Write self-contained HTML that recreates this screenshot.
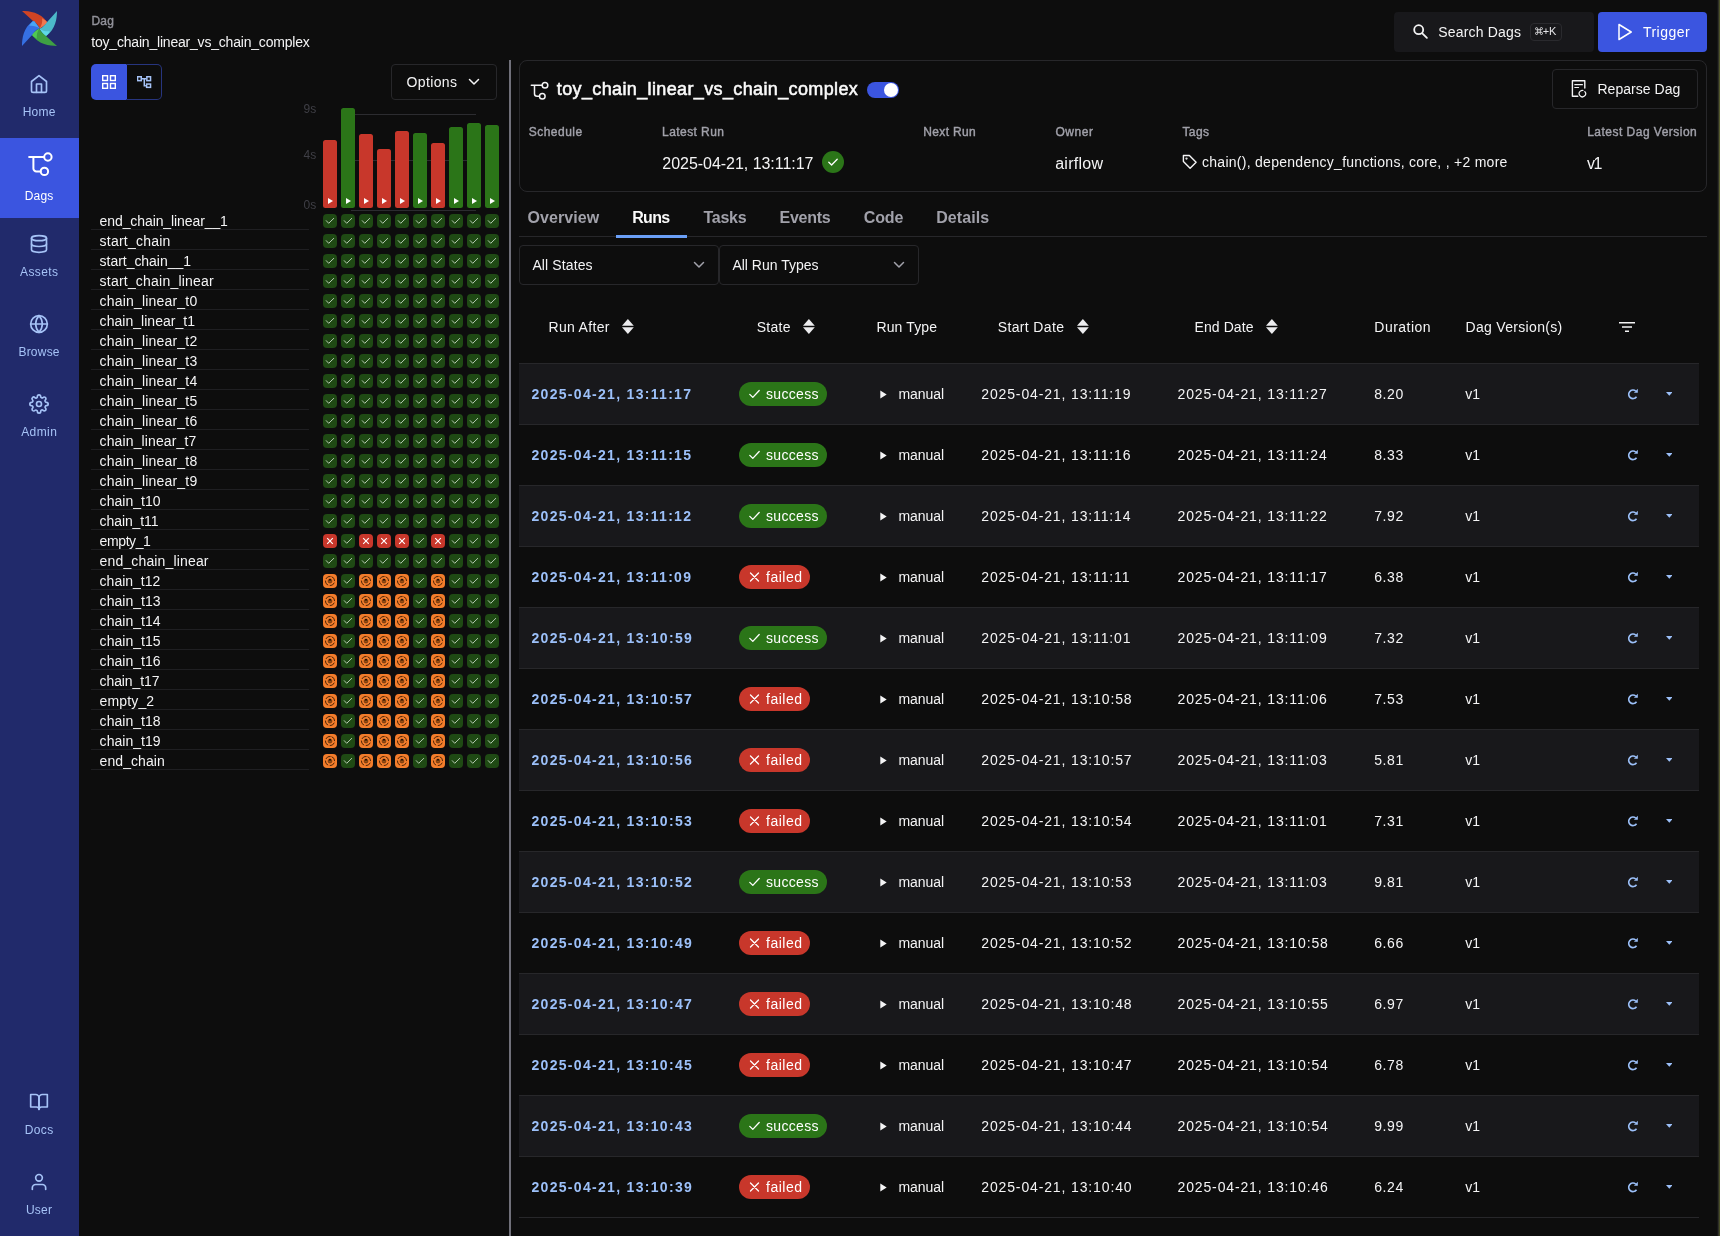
<!DOCTYPE html><html><head><meta charset="utf-8"><title>toy_chain_linear_vs_chain_complex - Runs</title><style>
*{box-sizing:border-box;margin:0;padding:0}
html,body{width:1720px;height:1236px;overflow:hidden;background:#0d0d0d;font-family:"Liberation Sans", sans-serif;color:#f4f4f5}
#root{position:relative;width:1720px;height:1236px;overflow:hidden;background:#0d0d0d;filter:opacity(1)}
.abs{position:absolute}
.t{position:absolute;white-space:nowrap;line-height:1}
#side{position:absolute;left:0;top:0;width:79px;height:1236px;background:#212a6b}
.ni{position:absolute;fill:none;stroke:#a6c3f7;stroke-width:2;stroke-linecap:round;stroke-linejoin:round}
.trl{position:absolute;left:91px;width:218px;height:1px;background:#1f1f22}
.c{position:absolute;width:14px;height:14px;border-radius:4px}
.c.s{background:#1f4a14} .c.f{background:#c8372b} .c.u{background:#f37d2b}
.c svg{position:absolute;left:0;top:0;width:14px;height:14px}
.bar{position:absolute;width:14px;border-radius:2.500px}
.bar.s{background:#2b7518} .bar.f{background:#c8372b}
.bar i{position:absolute;left:5px;bottom:4px;width:0;height:0;border-left:5.500px solid #fff;border-top:3.500px solid transparent;border-bottom:3.500px solid transparent}
.gl{position:absolute;left:351px;width:125px;height:1px;background:#2c2c30}
.tr{position:absolute;left:519px;width:1180px;height:61px;border-bottom:1px solid #27272a}
.tr.o{background:#18181b}
.bd{position:absolute;left:220px;top:18px;height:24px;border-radius:12px}
.bd.s{background:#2b7518;width:88px} .bd.f{background:#c8372b;width:71px}
.bd svg{position:absolute;left:9.500px;top:7px;width:11px;height:10px;fill:none;stroke:#fff;stroke-width:1.300;stroke-linecap:round;stroke-linejoin:round}
.sort{position:absolute;top:319.400px;width:11.800px;height:15px}
.box{position:absolute;border:1px solid #27272a;border-radius:4px}
.chev{position:absolute;width:12px;height:8px;fill:none;stroke-width:1.500;stroke-linecap:round;stroke-linejoin:round}
</style></head><body><div id="root">
<div id="side">
<svg class="abs" style="left:22px;top:11px;width:35px;height:35px" viewBox="0 0 100 100">
<g transform="rotate(0 50 50)"><path d="M0,0 C22,0 52,4 71,30.500 L71,35 L50.500,50.500 C49,46 44,37 32.500,29.500 Z" fill="#d04424"/><path d="M57.500,20.500 C63,24 68,27 71,30.500 L71,35 L50.500,50.500 C56,42 59,31 57.500,20.500 Z" fill="#f07850"/></g>
<g transform="rotate(90 50 50)"><path d="M0,0 C22,0 52,4 71,30.500 L71,35 L50.500,50.500 C49,46 44,37 32.500,29.500 Z" fill="#4cb9c9"/><path d="M57.500,20.500 C63,24 68,27 71,30.500 L71,35 L50.500,50.500 C56,42 59,31 57.500,20.500 Z" fill="#5fd8e6"/></g>
<g transform="rotate(180 50 50)"><path d="M0,0 C22,0 52,4 71,30.500 L71,35 L50.500,50.500 C49,46 44,37 32.500,29.500 Z" fill="#3ea043"/><path d="M57.500,20.500 C63,24 68,27 71,30.500 L71,35 L50.500,50.500 C56,42 59,31 57.500,20.500 Z" fill="#50c853"/></g>
<g transform="rotate(270 50 50)"><path d="M0,0 C22,0 52,4 71,30.500 L71,35 L50.500,50.500 C49,46 44,37 32.500,29.500 Z" fill="#3670e3"/><path d="M57.500,20.500 C63,24 68,27 71,30.500 L71,35 L50.500,50.500 C56,42 59,31 57.500,20.500 Z" fill="#48a4f5"/></g>
</svg>
<div class="abs" style="left:0;top:138px;width:79px;height:80px;background:#3b55e0"></div>
<svg class="ni" style="left:28.700px;top:74.2px;width:20px;height:20px" viewBox="0 0 24 24"><path d="M3 9l9-7 9 7v11a2 2 0 0 1-2 2H5a2 2 0 0 1-2-2z"/><path d="M9 22V12h6v10"/></svg>
<div class="t" style="left:22.65px;top:105.84px;font-size:12px;color:#a6c3f7;letter-spacing:0.230px;">Home</div>
<svg class="abs" style="left:27px;top:151px;width:27px;height:27px;fill:none;stroke:#fff;stroke-width:2;stroke-linecap:round;stroke-linejoin:round" viewBox="0 0 27 27"><circle cx="20.900" cy="6" r="3.700"/><circle cx="17.400" cy="20.400" r="3.700"/><path d="M2.100 6H17"/><path d="M6.400 6v11.400a3 3 0 0 0 3 3h4.200"/></svg>
<div class="t" style="left:24.75px;top:189.74px;font-size:12px;color:#fff;letter-spacing:0.162px;">Dags</div>
<svg class="ni" style="left:28.700px;top:234.2px;width:20px;height:20px" viewBox="0 0 24 24"><ellipse cx="12" cy="5" rx="9" ry="3"/><path d="M21 12c0 1.660-4 3-9 3s-9-1.340-9-3"/><path d="M3 5v14c0 1.660 4 3 9 3s9-1.340 9-3V5"/></svg>
<div class="t" style="left:20.10px;top:265.84px;font-size:12px;color:#a6c3f7;letter-spacing:0.358px;">Assets</div>
<svg class="ni" style="left:28.700px;top:314.2px;width:20px;height:20px" viewBox="0 0 24 24"><circle cx="12" cy="12" r="10"/><path d="M2 12h20"/><path d="M12 2a15.300 15.300 0 0 1 4 10 15.300 15.300 0 0 1-4 10 15.300 15.300 0 0 1-4-10 15.300 15.300 0 0 1 4-10z"/></svg>
<div class="t" style="left:18.45px;top:345.84px;font-size:12px;color:#a6c3f7;letter-spacing:0.217px;">Browse</div>
<svg class="ni" style="left:28.700px;top:394.2px;width:20px;height:20px" viewBox="0 0 24 24"><circle cx="12" cy="12" r="3"/><path d="M19.400 15a1.650 1.650 0 0 0 .330 1.820l.060.060a2 2 0 1 1-2.830 2.830l-.060-.060a1.650 1.650 0 0 0-1.820-.330 1.650 1.650 0 0 0-1 1.510V21a2 2 0 1 1-4 0v-.090A1.650 1.650 0 0 0 9 19.400a1.650 1.650 0 0 0-1.820.330l-.060.060a2 2 0 1 1-2.830-2.830l.060-.060a1.650 1.650 0 0 0 .330-1.820 1.650 1.650 0 0 0-1.510-1H3a2 2 0 1 1 0-4h.090A1.650 1.650 0 0 0 4.600 9a1.650 1.650 0 0 0-.330-1.820l-.060-.060a2 2 0 1 1 2.830-2.830l.060.060a1.650 1.650 0 0 0 1.820.330H9a1.650 1.650 0 0 0 1-1.510V3a2 2 0 1 1 4 0v.090a1.650 1.650 0 0 0 1 1.510 1.650 1.650 0 0 0 1.820-.330l.060-.060a2 2 0 1 1 2.830 2.830l-.060.060a1.650 1.650 0 0 0-.330 1.820V9a1.650 1.650 0 0 0 1.510 1H21a2 2 0 1 1 0 4h-.090a1.650 1.650 0 0 0-1.510 1z"/></svg>
<div class="t" style="left:21.15px;top:425.84px;font-size:12px;color:#a6c3f7;letter-spacing:0.421px;">Admin</div>
<svg class="ni" style="left:28.700px;top:1092.2px;width:20px;height:20px" viewBox="0 0 24 24"><path d="M2 3h6a4 4 0 0 1 4 4v14a3 3 0 0 0-3-3H2z"/><path d="M22 3h-6a4 4 0 0 0-4 4v14a3 3 0 0 1 3-3h7z"/></svg>
<div class="t" style="left:24.70px;top:1123.84px;font-size:12px;color:#a6c3f7;letter-spacing:0.420px;">Docs</div>
<svg class="ni" style="left:28.700px;top:1172.2px;width:20px;height:20px" viewBox="0 0 24 24"><path d="M20 21v-2a4 4 0 0 0-4-4H8a4 4 0 0 0-4 4v2"/><circle cx="12" cy="7" r="4"/></svg>
<div class="t" style="left:25.95px;top:1203.84px;font-size:12px;color:#a6c3f7;letter-spacing:0.254px;">User</div>
</div>
<div class="t" style="left:91.50px;top:14.84px;font-size:12px;color:#92929a;letter-spacing:0.168px;-webkit-text-stroke:0.4px #92929a;">Dag</div>
<div class="t" style="left:91.30px;top:35.15px;font-size:14px;color:#f4f4f5;letter-spacing:-0.201px;">toy_chain_linear_vs_chain_complex</div>
<div class="abs" style="left:91px;top:64px;width:35.500px;height:36px;background:#3b55e0;border-radius:5px 0 0 5px"></div>
<div class="abs" style="left:126px;top:64px;width:36px;height:36px;border:1px solid #27357f;border-left:none;border-radius:0 5px 5px 0"></div>
<svg class="abs" style="left:102px;top:75px;width:14px;height:14px;fill:none;stroke:#fff;stroke-width:1.400" viewBox="0 0 14 14"><rect x="0.700" y="0.700" width="4.800" height="4.800"/><rect x="8.500" y="0.700" width="4.800" height="4.800"/><rect x="0.700" y="8.500" width="4.800" height="4.800"/><rect x="8.500" y="8.500" width="4.800" height="4.800"/></svg>
<svg class="abs" style="left:137px;top:75px;width:15px;height:14px;fill:none;stroke:#a6c3f7;stroke-width:1.500" viewBox="0 0 15 14"><rect x="0.550" y="1.750" width="3.700" height="3.900"/><rect x="9.850" y="1.750" width="3.700" height="3.900"/><rect x="9.600" y="9.050" width="3.950" height="3.300"/><path d="M5 3.700h4.100M7.300 3.700v7h1.600"/></svg>
<div class="box" style="left:391px;top:64px;width:106px;height:36px"></div>
<div class="t" style="left:406.50px;top:75.15px;font-size:14px;color:#f4f4f5;letter-spacing:0.375px;">Options</div>
<svg class="chev" style="left:468px;top:78px;stroke:#f4f4f5" viewBox="0 0 12 8"><path d="M1.500 1.500L6 6l4.500-4.500"/></svg>
<div class="t" style="left:303.40px;top:103.14px;font-size:12px;color:#3f3f46;letter-spacing:0.300px;">9s</div>
<div class="t" style="left:303.40px;top:149.14px;font-size:12px;color:#3f3f46;letter-spacing:0.300px;">4s</div>
<div class="t" style="left:303.40px;top:199.14px;font-size:12px;color:#3f3f46;letter-spacing:0.300px;">0s</div>
<div class="gl" style="top:114px"></div>
<div class="gl" style="top:160px"></div>
<div class="gl" style="top:210px"></div>
<div class="bar f" style="left:323px;top:140px;height:68px"><i></i></div>
<div class="bar s" style="left:341px;top:108px;height:100px"><i></i></div>
<div class="bar f" style="left:359px;top:134px;height:74px"><i></i></div>
<div class="bar f" style="left:377px;top:149px;height:59px"><i></i></div>
<div class="bar f" style="left:395px;top:131px;height:77px"><i></i></div>
<div class="bar s" style="left:413px;top:133px;height:75px"><i></i></div>
<div class="bar f" style="left:431px;top:143px;height:65px"><i></i></div>
<div class="bar s" style="left:449px;top:127px;height:81px"><i></i></div>
<div class="bar s" style="left:467px;top:123px;height:85px"><i></i></div>
<div class="bar s" style="left:485px;top:125px;height:83px"><i></i></div>
<div class="trl" style="top:229px"></div>
<div class="t" style="left:99.60px;top:213.65px;font-size:14px;color:#f4f4f5;letter-spacing:-0.095px;">end_chain_linear__1</div>
<div class="c s" style="left:323px;top:214px"><svg viewBox="0 0 14 14"><path d="M3 6.400l2.700 2.900 5.300-5.200" fill="none" stroke="#bccfb7" stroke-width="0.950"/></svg></div>
<div class="c s" style="left:341px;top:214px"><svg viewBox="0 0 14 14"><path d="M3 6.400l2.700 2.900 5.300-5.200" fill="none" stroke="#bccfb7" stroke-width="0.950"/></svg></div>
<div class="c s" style="left:359px;top:214px"><svg viewBox="0 0 14 14"><path d="M3 6.400l2.700 2.900 5.300-5.200" fill="none" stroke="#bccfb7" stroke-width="0.950"/></svg></div>
<div class="c s" style="left:377px;top:214px"><svg viewBox="0 0 14 14"><path d="M3 6.400l2.700 2.900 5.300-5.200" fill="none" stroke="#bccfb7" stroke-width="0.950"/></svg></div>
<div class="c s" style="left:395px;top:214px"><svg viewBox="0 0 14 14"><path d="M3 6.400l2.700 2.900 5.300-5.200" fill="none" stroke="#bccfb7" stroke-width="0.950"/></svg></div>
<div class="c s" style="left:413px;top:214px"><svg viewBox="0 0 14 14"><path d="M3 6.400l2.700 2.900 5.300-5.200" fill="none" stroke="#bccfb7" stroke-width="0.950"/></svg></div>
<div class="c s" style="left:431px;top:214px"><svg viewBox="0 0 14 14"><path d="M3 6.400l2.700 2.900 5.300-5.200" fill="none" stroke="#bccfb7" stroke-width="0.950"/></svg></div>
<div class="c s" style="left:449px;top:214px"><svg viewBox="0 0 14 14"><path d="M3 6.400l2.700 2.900 5.300-5.200" fill="none" stroke="#bccfb7" stroke-width="0.950"/></svg></div>
<div class="c s" style="left:467px;top:214px"><svg viewBox="0 0 14 14"><path d="M3 6.400l2.700 2.900 5.300-5.200" fill="none" stroke="#bccfb7" stroke-width="0.950"/></svg></div>
<div class="c s" style="left:485px;top:214px"><svg viewBox="0 0 14 14"><path d="M3 6.400l2.700 2.900 5.300-5.200" fill="none" stroke="#bccfb7" stroke-width="0.950"/></svg></div>
<div class="trl" style="top:249px"></div>
<div class="t" style="left:99.60px;top:233.65px;font-size:14px;color:#f4f4f5;letter-spacing:0.222px;">start_chain</div>
<div class="c s" style="left:323px;top:234px"><svg viewBox="0 0 14 14"><path d="M3 6.400l2.700 2.900 5.300-5.200" fill="none" stroke="#bccfb7" stroke-width="0.950"/></svg></div>
<div class="c s" style="left:341px;top:234px"><svg viewBox="0 0 14 14"><path d="M3 6.400l2.700 2.900 5.300-5.200" fill="none" stroke="#bccfb7" stroke-width="0.950"/></svg></div>
<div class="c s" style="left:359px;top:234px"><svg viewBox="0 0 14 14"><path d="M3 6.400l2.700 2.900 5.300-5.200" fill="none" stroke="#bccfb7" stroke-width="0.950"/></svg></div>
<div class="c s" style="left:377px;top:234px"><svg viewBox="0 0 14 14"><path d="M3 6.400l2.700 2.900 5.300-5.200" fill="none" stroke="#bccfb7" stroke-width="0.950"/></svg></div>
<div class="c s" style="left:395px;top:234px"><svg viewBox="0 0 14 14"><path d="M3 6.400l2.700 2.900 5.300-5.200" fill="none" stroke="#bccfb7" stroke-width="0.950"/></svg></div>
<div class="c s" style="left:413px;top:234px"><svg viewBox="0 0 14 14"><path d="M3 6.400l2.700 2.900 5.300-5.200" fill="none" stroke="#bccfb7" stroke-width="0.950"/></svg></div>
<div class="c s" style="left:431px;top:234px"><svg viewBox="0 0 14 14"><path d="M3 6.400l2.700 2.900 5.300-5.200" fill="none" stroke="#bccfb7" stroke-width="0.950"/></svg></div>
<div class="c s" style="left:449px;top:234px"><svg viewBox="0 0 14 14"><path d="M3 6.400l2.700 2.900 5.300-5.200" fill="none" stroke="#bccfb7" stroke-width="0.950"/></svg></div>
<div class="c s" style="left:467px;top:234px"><svg viewBox="0 0 14 14"><path d="M3 6.400l2.700 2.900 5.300-5.200" fill="none" stroke="#bccfb7" stroke-width="0.950"/></svg></div>
<div class="c s" style="left:485px;top:234px"><svg viewBox="0 0 14 14"><path d="M3 6.400l2.700 2.900 5.300-5.200" fill="none" stroke="#bccfb7" stroke-width="0.950"/></svg></div>
<div class="trl" style="top:269px"></div>
<div class="t" style="left:99.60px;top:253.65px;font-size:14px;color:#f4f4f5;letter-spacing:-0.034px;">start_chain__1</div>
<div class="c s" style="left:323px;top:254px"><svg viewBox="0 0 14 14"><path d="M3 6.400l2.700 2.900 5.300-5.200" fill="none" stroke="#bccfb7" stroke-width="0.950"/></svg></div>
<div class="c s" style="left:341px;top:254px"><svg viewBox="0 0 14 14"><path d="M3 6.400l2.700 2.900 5.300-5.200" fill="none" stroke="#bccfb7" stroke-width="0.950"/></svg></div>
<div class="c s" style="left:359px;top:254px"><svg viewBox="0 0 14 14"><path d="M3 6.400l2.700 2.900 5.300-5.200" fill="none" stroke="#bccfb7" stroke-width="0.950"/></svg></div>
<div class="c s" style="left:377px;top:254px"><svg viewBox="0 0 14 14"><path d="M3 6.400l2.700 2.900 5.300-5.200" fill="none" stroke="#bccfb7" stroke-width="0.950"/></svg></div>
<div class="c s" style="left:395px;top:254px"><svg viewBox="0 0 14 14"><path d="M3 6.400l2.700 2.900 5.300-5.200" fill="none" stroke="#bccfb7" stroke-width="0.950"/></svg></div>
<div class="c s" style="left:413px;top:254px"><svg viewBox="0 0 14 14"><path d="M3 6.400l2.700 2.900 5.300-5.200" fill="none" stroke="#bccfb7" stroke-width="0.950"/></svg></div>
<div class="c s" style="left:431px;top:254px"><svg viewBox="0 0 14 14"><path d="M3 6.400l2.700 2.900 5.300-5.200" fill="none" stroke="#bccfb7" stroke-width="0.950"/></svg></div>
<div class="c s" style="left:449px;top:254px"><svg viewBox="0 0 14 14"><path d="M3 6.400l2.700 2.900 5.300-5.200" fill="none" stroke="#bccfb7" stroke-width="0.950"/></svg></div>
<div class="c s" style="left:467px;top:254px"><svg viewBox="0 0 14 14"><path d="M3 6.400l2.700 2.900 5.300-5.200" fill="none" stroke="#bccfb7" stroke-width="0.950"/></svg></div>
<div class="c s" style="left:485px;top:254px"><svg viewBox="0 0 14 14"><path d="M3 6.400l2.700 2.900 5.300-5.200" fill="none" stroke="#bccfb7" stroke-width="0.950"/></svg></div>
<div class="trl" style="top:289px"></div>
<div class="t" style="left:99.60px;top:273.65px;font-size:14px;color:#f4f4f5;letter-spacing:0.211px;">start_chain_linear</div>
<div class="c s" style="left:323px;top:274px"><svg viewBox="0 0 14 14"><path d="M3 6.400l2.700 2.900 5.300-5.200" fill="none" stroke="#bccfb7" stroke-width="0.950"/></svg></div>
<div class="c s" style="left:341px;top:274px"><svg viewBox="0 0 14 14"><path d="M3 6.400l2.700 2.900 5.300-5.200" fill="none" stroke="#bccfb7" stroke-width="0.950"/></svg></div>
<div class="c s" style="left:359px;top:274px"><svg viewBox="0 0 14 14"><path d="M3 6.400l2.700 2.900 5.300-5.200" fill="none" stroke="#bccfb7" stroke-width="0.950"/></svg></div>
<div class="c s" style="left:377px;top:274px"><svg viewBox="0 0 14 14"><path d="M3 6.400l2.700 2.900 5.300-5.200" fill="none" stroke="#bccfb7" stroke-width="0.950"/></svg></div>
<div class="c s" style="left:395px;top:274px"><svg viewBox="0 0 14 14"><path d="M3 6.400l2.700 2.900 5.300-5.200" fill="none" stroke="#bccfb7" stroke-width="0.950"/></svg></div>
<div class="c s" style="left:413px;top:274px"><svg viewBox="0 0 14 14"><path d="M3 6.400l2.700 2.900 5.300-5.200" fill="none" stroke="#bccfb7" stroke-width="0.950"/></svg></div>
<div class="c s" style="left:431px;top:274px"><svg viewBox="0 0 14 14"><path d="M3 6.400l2.700 2.900 5.300-5.200" fill="none" stroke="#bccfb7" stroke-width="0.950"/></svg></div>
<div class="c s" style="left:449px;top:274px"><svg viewBox="0 0 14 14"><path d="M3 6.400l2.700 2.900 5.300-5.200" fill="none" stroke="#bccfb7" stroke-width="0.950"/></svg></div>
<div class="c s" style="left:467px;top:274px"><svg viewBox="0 0 14 14"><path d="M3 6.400l2.700 2.900 5.300-5.200" fill="none" stroke="#bccfb7" stroke-width="0.950"/></svg></div>
<div class="c s" style="left:485px;top:274px"><svg viewBox="0 0 14 14"><path d="M3 6.400l2.700 2.900 5.300-5.200" fill="none" stroke="#bccfb7" stroke-width="0.950"/></svg></div>
<div class="trl" style="top:309px"></div>
<div class="t" style="left:99.60px;top:293.65px;font-size:14px;color:#f4f4f5;letter-spacing:0.188px;">chain_linear_t0</div>
<div class="c s" style="left:323px;top:294px"><svg viewBox="0 0 14 14"><path d="M3 6.400l2.700 2.900 5.300-5.200" fill="none" stroke="#bccfb7" stroke-width="0.950"/></svg></div>
<div class="c s" style="left:341px;top:294px"><svg viewBox="0 0 14 14"><path d="M3 6.400l2.700 2.900 5.300-5.200" fill="none" stroke="#bccfb7" stroke-width="0.950"/></svg></div>
<div class="c s" style="left:359px;top:294px"><svg viewBox="0 0 14 14"><path d="M3 6.400l2.700 2.900 5.300-5.200" fill="none" stroke="#bccfb7" stroke-width="0.950"/></svg></div>
<div class="c s" style="left:377px;top:294px"><svg viewBox="0 0 14 14"><path d="M3 6.400l2.700 2.900 5.300-5.200" fill="none" stroke="#bccfb7" stroke-width="0.950"/></svg></div>
<div class="c s" style="left:395px;top:294px"><svg viewBox="0 0 14 14"><path d="M3 6.400l2.700 2.900 5.300-5.200" fill="none" stroke="#bccfb7" stroke-width="0.950"/></svg></div>
<div class="c s" style="left:413px;top:294px"><svg viewBox="0 0 14 14"><path d="M3 6.400l2.700 2.900 5.300-5.200" fill="none" stroke="#bccfb7" stroke-width="0.950"/></svg></div>
<div class="c s" style="left:431px;top:294px"><svg viewBox="0 0 14 14"><path d="M3 6.400l2.700 2.900 5.300-5.200" fill="none" stroke="#bccfb7" stroke-width="0.950"/></svg></div>
<div class="c s" style="left:449px;top:294px"><svg viewBox="0 0 14 14"><path d="M3 6.400l2.700 2.900 5.300-5.200" fill="none" stroke="#bccfb7" stroke-width="0.950"/></svg></div>
<div class="c s" style="left:467px;top:294px"><svg viewBox="0 0 14 14"><path d="M3 6.400l2.700 2.900 5.300-5.200" fill="none" stroke="#bccfb7" stroke-width="0.950"/></svg></div>
<div class="c s" style="left:485px;top:294px"><svg viewBox="0 0 14 14"><path d="M3 6.400l2.700 2.900 5.300-5.200" fill="none" stroke="#bccfb7" stroke-width="0.950"/></svg></div>
<div class="trl" style="top:329px"></div>
<div class="t" style="left:99.60px;top:313.65px;font-size:14px;color:#f4f4f5;letter-spacing:0.038px;">chain_linear_t1</div>
<div class="c s" style="left:323px;top:314px"><svg viewBox="0 0 14 14"><path d="M3 6.400l2.700 2.900 5.300-5.200" fill="none" stroke="#bccfb7" stroke-width="0.950"/></svg></div>
<div class="c s" style="left:341px;top:314px"><svg viewBox="0 0 14 14"><path d="M3 6.400l2.700 2.900 5.300-5.200" fill="none" stroke="#bccfb7" stroke-width="0.950"/></svg></div>
<div class="c s" style="left:359px;top:314px"><svg viewBox="0 0 14 14"><path d="M3 6.400l2.700 2.900 5.300-5.200" fill="none" stroke="#bccfb7" stroke-width="0.950"/></svg></div>
<div class="c s" style="left:377px;top:314px"><svg viewBox="0 0 14 14"><path d="M3 6.400l2.700 2.900 5.300-5.200" fill="none" stroke="#bccfb7" stroke-width="0.950"/></svg></div>
<div class="c s" style="left:395px;top:314px"><svg viewBox="0 0 14 14"><path d="M3 6.400l2.700 2.900 5.300-5.200" fill="none" stroke="#bccfb7" stroke-width="0.950"/></svg></div>
<div class="c s" style="left:413px;top:314px"><svg viewBox="0 0 14 14"><path d="M3 6.400l2.700 2.900 5.300-5.200" fill="none" stroke="#bccfb7" stroke-width="0.950"/></svg></div>
<div class="c s" style="left:431px;top:314px"><svg viewBox="0 0 14 14"><path d="M3 6.400l2.700 2.900 5.300-5.200" fill="none" stroke="#bccfb7" stroke-width="0.950"/></svg></div>
<div class="c s" style="left:449px;top:314px"><svg viewBox="0 0 14 14"><path d="M3 6.400l2.700 2.900 5.300-5.200" fill="none" stroke="#bccfb7" stroke-width="0.950"/></svg></div>
<div class="c s" style="left:467px;top:314px"><svg viewBox="0 0 14 14"><path d="M3 6.400l2.700 2.900 5.300-5.200" fill="none" stroke="#bccfb7" stroke-width="0.950"/></svg></div>
<div class="c s" style="left:485px;top:314px"><svg viewBox="0 0 14 14"><path d="M3 6.400l2.700 2.900 5.300-5.200" fill="none" stroke="#bccfb7" stroke-width="0.950"/></svg></div>
<div class="trl" style="top:349px"></div>
<div class="t" style="left:99.60px;top:333.65px;font-size:14px;color:#f4f4f5;letter-spacing:0.188px;">chain_linear_t2</div>
<div class="c s" style="left:323px;top:334px"><svg viewBox="0 0 14 14"><path d="M3 6.400l2.700 2.900 5.300-5.200" fill="none" stroke="#bccfb7" stroke-width="0.950"/></svg></div>
<div class="c s" style="left:341px;top:334px"><svg viewBox="0 0 14 14"><path d="M3 6.400l2.700 2.900 5.300-5.200" fill="none" stroke="#bccfb7" stroke-width="0.950"/></svg></div>
<div class="c s" style="left:359px;top:334px"><svg viewBox="0 0 14 14"><path d="M3 6.400l2.700 2.900 5.300-5.200" fill="none" stroke="#bccfb7" stroke-width="0.950"/></svg></div>
<div class="c s" style="left:377px;top:334px"><svg viewBox="0 0 14 14"><path d="M3 6.400l2.700 2.900 5.300-5.200" fill="none" stroke="#bccfb7" stroke-width="0.950"/></svg></div>
<div class="c s" style="left:395px;top:334px"><svg viewBox="0 0 14 14"><path d="M3 6.400l2.700 2.900 5.300-5.200" fill="none" stroke="#bccfb7" stroke-width="0.950"/></svg></div>
<div class="c s" style="left:413px;top:334px"><svg viewBox="0 0 14 14"><path d="M3 6.400l2.700 2.900 5.300-5.200" fill="none" stroke="#bccfb7" stroke-width="0.950"/></svg></div>
<div class="c s" style="left:431px;top:334px"><svg viewBox="0 0 14 14"><path d="M3 6.400l2.700 2.900 5.300-5.200" fill="none" stroke="#bccfb7" stroke-width="0.950"/></svg></div>
<div class="c s" style="left:449px;top:334px"><svg viewBox="0 0 14 14"><path d="M3 6.400l2.700 2.900 5.300-5.200" fill="none" stroke="#bccfb7" stroke-width="0.950"/></svg></div>
<div class="c s" style="left:467px;top:334px"><svg viewBox="0 0 14 14"><path d="M3 6.400l2.700 2.900 5.300-5.200" fill="none" stroke="#bccfb7" stroke-width="0.950"/></svg></div>
<div class="c s" style="left:485px;top:334px"><svg viewBox="0 0 14 14"><path d="M3 6.400l2.700 2.900 5.300-5.200" fill="none" stroke="#bccfb7" stroke-width="0.950"/></svg></div>
<div class="trl" style="top:369px"></div>
<div class="t" style="left:99.60px;top:353.65px;font-size:14px;color:#f4f4f5;letter-spacing:0.188px;">chain_linear_t3</div>
<div class="c s" style="left:323px;top:354px"><svg viewBox="0 0 14 14"><path d="M3 6.400l2.700 2.900 5.300-5.200" fill="none" stroke="#bccfb7" stroke-width="0.950"/></svg></div>
<div class="c s" style="left:341px;top:354px"><svg viewBox="0 0 14 14"><path d="M3 6.400l2.700 2.900 5.300-5.200" fill="none" stroke="#bccfb7" stroke-width="0.950"/></svg></div>
<div class="c s" style="left:359px;top:354px"><svg viewBox="0 0 14 14"><path d="M3 6.400l2.700 2.900 5.300-5.200" fill="none" stroke="#bccfb7" stroke-width="0.950"/></svg></div>
<div class="c s" style="left:377px;top:354px"><svg viewBox="0 0 14 14"><path d="M3 6.400l2.700 2.900 5.300-5.200" fill="none" stroke="#bccfb7" stroke-width="0.950"/></svg></div>
<div class="c s" style="left:395px;top:354px"><svg viewBox="0 0 14 14"><path d="M3 6.400l2.700 2.900 5.300-5.200" fill="none" stroke="#bccfb7" stroke-width="0.950"/></svg></div>
<div class="c s" style="left:413px;top:354px"><svg viewBox="0 0 14 14"><path d="M3 6.400l2.700 2.900 5.300-5.200" fill="none" stroke="#bccfb7" stroke-width="0.950"/></svg></div>
<div class="c s" style="left:431px;top:354px"><svg viewBox="0 0 14 14"><path d="M3 6.400l2.700 2.900 5.300-5.200" fill="none" stroke="#bccfb7" stroke-width="0.950"/></svg></div>
<div class="c s" style="left:449px;top:354px"><svg viewBox="0 0 14 14"><path d="M3 6.400l2.700 2.900 5.300-5.200" fill="none" stroke="#bccfb7" stroke-width="0.950"/></svg></div>
<div class="c s" style="left:467px;top:354px"><svg viewBox="0 0 14 14"><path d="M3 6.400l2.700 2.900 5.300-5.200" fill="none" stroke="#bccfb7" stroke-width="0.950"/></svg></div>
<div class="c s" style="left:485px;top:354px"><svg viewBox="0 0 14 14"><path d="M3 6.400l2.700 2.900 5.300-5.200" fill="none" stroke="#bccfb7" stroke-width="0.950"/></svg></div>
<div class="trl" style="top:389px"></div>
<div class="t" style="left:99.60px;top:373.65px;font-size:14px;color:#f4f4f5;letter-spacing:0.188px;">chain_linear_t4</div>
<div class="c s" style="left:323px;top:374px"><svg viewBox="0 0 14 14"><path d="M3 6.400l2.700 2.900 5.300-5.200" fill="none" stroke="#bccfb7" stroke-width="0.950"/></svg></div>
<div class="c s" style="left:341px;top:374px"><svg viewBox="0 0 14 14"><path d="M3 6.400l2.700 2.900 5.300-5.200" fill="none" stroke="#bccfb7" stroke-width="0.950"/></svg></div>
<div class="c s" style="left:359px;top:374px"><svg viewBox="0 0 14 14"><path d="M3 6.400l2.700 2.900 5.300-5.200" fill="none" stroke="#bccfb7" stroke-width="0.950"/></svg></div>
<div class="c s" style="left:377px;top:374px"><svg viewBox="0 0 14 14"><path d="M3 6.400l2.700 2.900 5.300-5.200" fill="none" stroke="#bccfb7" stroke-width="0.950"/></svg></div>
<div class="c s" style="left:395px;top:374px"><svg viewBox="0 0 14 14"><path d="M3 6.400l2.700 2.900 5.300-5.200" fill="none" stroke="#bccfb7" stroke-width="0.950"/></svg></div>
<div class="c s" style="left:413px;top:374px"><svg viewBox="0 0 14 14"><path d="M3 6.400l2.700 2.900 5.300-5.200" fill="none" stroke="#bccfb7" stroke-width="0.950"/></svg></div>
<div class="c s" style="left:431px;top:374px"><svg viewBox="0 0 14 14"><path d="M3 6.400l2.700 2.900 5.300-5.200" fill="none" stroke="#bccfb7" stroke-width="0.950"/></svg></div>
<div class="c s" style="left:449px;top:374px"><svg viewBox="0 0 14 14"><path d="M3 6.400l2.700 2.900 5.300-5.200" fill="none" stroke="#bccfb7" stroke-width="0.950"/></svg></div>
<div class="c s" style="left:467px;top:374px"><svg viewBox="0 0 14 14"><path d="M3 6.400l2.700 2.900 5.300-5.200" fill="none" stroke="#bccfb7" stroke-width="0.950"/></svg></div>
<div class="c s" style="left:485px;top:374px"><svg viewBox="0 0 14 14"><path d="M3 6.400l2.700 2.900 5.300-5.200" fill="none" stroke="#bccfb7" stroke-width="0.950"/></svg></div>
<div class="trl" style="top:409px"></div>
<div class="t" style="left:99.60px;top:393.65px;font-size:14px;color:#f4f4f5;letter-spacing:0.188px;">chain_linear_t5</div>
<div class="c s" style="left:323px;top:394px"><svg viewBox="0 0 14 14"><path d="M3 6.400l2.700 2.900 5.300-5.200" fill="none" stroke="#bccfb7" stroke-width="0.950"/></svg></div>
<div class="c s" style="left:341px;top:394px"><svg viewBox="0 0 14 14"><path d="M3 6.400l2.700 2.900 5.300-5.200" fill="none" stroke="#bccfb7" stroke-width="0.950"/></svg></div>
<div class="c s" style="left:359px;top:394px"><svg viewBox="0 0 14 14"><path d="M3 6.400l2.700 2.900 5.300-5.200" fill="none" stroke="#bccfb7" stroke-width="0.950"/></svg></div>
<div class="c s" style="left:377px;top:394px"><svg viewBox="0 0 14 14"><path d="M3 6.400l2.700 2.900 5.300-5.200" fill="none" stroke="#bccfb7" stroke-width="0.950"/></svg></div>
<div class="c s" style="left:395px;top:394px"><svg viewBox="0 0 14 14"><path d="M3 6.400l2.700 2.900 5.300-5.200" fill="none" stroke="#bccfb7" stroke-width="0.950"/></svg></div>
<div class="c s" style="left:413px;top:394px"><svg viewBox="0 0 14 14"><path d="M3 6.400l2.700 2.900 5.300-5.200" fill="none" stroke="#bccfb7" stroke-width="0.950"/></svg></div>
<div class="c s" style="left:431px;top:394px"><svg viewBox="0 0 14 14"><path d="M3 6.400l2.700 2.900 5.300-5.200" fill="none" stroke="#bccfb7" stroke-width="0.950"/></svg></div>
<div class="c s" style="left:449px;top:394px"><svg viewBox="0 0 14 14"><path d="M3 6.400l2.700 2.900 5.300-5.200" fill="none" stroke="#bccfb7" stroke-width="0.950"/></svg></div>
<div class="c s" style="left:467px;top:394px"><svg viewBox="0 0 14 14"><path d="M3 6.400l2.700 2.900 5.300-5.200" fill="none" stroke="#bccfb7" stroke-width="0.950"/></svg></div>
<div class="c s" style="left:485px;top:394px"><svg viewBox="0 0 14 14"><path d="M3 6.400l2.700 2.900 5.300-5.200" fill="none" stroke="#bccfb7" stroke-width="0.950"/></svg></div>
<div class="trl" style="top:429px"></div>
<div class="t" style="left:99.60px;top:413.65px;font-size:14px;color:#f4f4f5;letter-spacing:0.188px;">chain_linear_t6</div>
<div class="c s" style="left:323px;top:414px"><svg viewBox="0 0 14 14"><path d="M3 6.400l2.700 2.900 5.300-5.200" fill="none" stroke="#bccfb7" stroke-width="0.950"/></svg></div>
<div class="c s" style="left:341px;top:414px"><svg viewBox="0 0 14 14"><path d="M3 6.400l2.700 2.900 5.300-5.200" fill="none" stroke="#bccfb7" stroke-width="0.950"/></svg></div>
<div class="c s" style="left:359px;top:414px"><svg viewBox="0 0 14 14"><path d="M3 6.400l2.700 2.900 5.300-5.200" fill="none" stroke="#bccfb7" stroke-width="0.950"/></svg></div>
<div class="c s" style="left:377px;top:414px"><svg viewBox="0 0 14 14"><path d="M3 6.400l2.700 2.900 5.300-5.200" fill="none" stroke="#bccfb7" stroke-width="0.950"/></svg></div>
<div class="c s" style="left:395px;top:414px"><svg viewBox="0 0 14 14"><path d="M3 6.400l2.700 2.900 5.300-5.200" fill="none" stroke="#bccfb7" stroke-width="0.950"/></svg></div>
<div class="c s" style="left:413px;top:414px"><svg viewBox="0 0 14 14"><path d="M3 6.400l2.700 2.900 5.300-5.200" fill="none" stroke="#bccfb7" stroke-width="0.950"/></svg></div>
<div class="c s" style="left:431px;top:414px"><svg viewBox="0 0 14 14"><path d="M3 6.400l2.700 2.900 5.300-5.200" fill="none" stroke="#bccfb7" stroke-width="0.950"/></svg></div>
<div class="c s" style="left:449px;top:414px"><svg viewBox="0 0 14 14"><path d="M3 6.400l2.700 2.900 5.300-5.200" fill="none" stroke="#bccfb7" stroke-width="0.950"/></svg></div>
<div class="c s" style="left:467px;top:414px"><svg viewBox="0 0 14 14"><path d="M3 6.400l2.700 2.900 5.300-5.200" fill="none" stroke="#bccfb7" stroke-width="0.950"/></svg></div>
<div class="c s" style="left:485px;top:414px"><svg viewBox="0 0 14 14"><path d="M3 6.400l2.700 2.900 5.300-5.200" fill="none" stroke="#bccfb7" stroke-width="0.950"/></svg></div>
<div class="trl" style="top:449px"></div>
<div class="t" style="left:99.60px;top:433.65px;font-size:14px;color:#f4f4f5;letter-spacing:0.117px;">chain_linear_t7</div>
<div class="c s" style="left:323px;top:434px"><svg viewBox="0 0 14 14"><path d="M3 6.400l2.700 2.900 5.300-5.200" fill="none" stroke="#bccfb7" stroke-width="0.950"/></svg></div>
<div class="c s" style="left:341px;top:434px"><svg viewBox="0 0 14 14"><path d="M3 6.400l2.700 2.900 5.300-5.200" fill="none" stroke="#bccfb7" stroke-width="0.950"/></svg></div>
<div class="c s" style="left:359px;top:434px"><svg viewBox="0 0 14 14"><path d="M3 6.400l2.700 2.900 5.300-5.200" fill="none" stroke="#bccfb7" stroke-width="0.950"/></svg></div>
<div class="c s" style="left:377px;top:434px"><svg viewBox="0 0 14 14"><path d="M3 6.400l2.700 2.900 5.300-5.200" fill="none" stroke="#bccfb7" stroke-width="0.950"/></svg></div>
<div class="c s" style="left:395px;top:434px"><svg viewBox="0 0 14 14"><path d="M3 6.400l2.700 2.900 5.300-5.200" fill="none" stroke="#bccfb7" stroke-width="0.950"/></svg></div>
<div class="c s" style="left:413px;top:434px"><svg viewBox="0 0 14 14"><path d="M3 6.400l2.700 2.900 5.300-5.200" fill="none" stroke="#bccfb7" stroke-width="0.950"/></svg></div>
<div class="c s" style="left:431px;top:434px"><svg viewBox="0 0 14 14"><path d="M3 6.400l2.700 2.900 5.300-5.200" fill="none" stroke="#bccfb7" stroke-width="0.950"/></svg></div>
<div class="c s" style="left:449px;top:434px"><svg viewBox="0 0 14 14"><path d="M3 6.400l2.700 2.900 5.300-5.200" fill="none" stroke="#bccfb7" stroke-width="0.950"/></svg></div>
<div class="c s" style="left:467px;top:434px"><svg viewBox="0 0 14 14"><path d="M3 6.400l2.700 2.900 5.300-5.200" fill="none" stroke="#bccfb7" stroke-width="0.950"/></svg></div>
<div class="c s" style="left:485px;top:434px"><svg viewBox="0 0 14 14"><path d="M3 6.400l2.700 2.900 5.300-5.200" fill="none" stroke="#bccfb7" stroke-width="0.950"/></svg></div>
<div class="trl" style="top:469px"></div>
<div class="t" style="left:99.60px;top:453.65px;font-size:14px;color:#f4f4f5;letter-spacing:0.188px;">chain_linear_t8</div>
<div class="c s" style="left:323px;top:454px"><svg viewBox="0 0 14 14"><path d="M3 6.400l2.700 2.900 5.300-5.200" fill="none" stroke="#bccfb7" stroke-width="0.950"/></svg></div>
<div class="c s" style="left:341px;top:454px"><svg viewBox="0 0 14 14"><path d="M3 6.400l2.700 2.900 5.300-5.200" fill="none" stroke="#bccfb7" stroke-width="0.950"/></svg></div>
<div class="c s" style="left:359px;top:454px"><svg viewBox="0 0 14 14"><path d="M3 6.400l2.700 2.900 5.300-5.200" fill="none" stroke="#bccfb7" stroke-width="0.950"/></svg></div>
<div class="c s" style="left:377px;top:454px"><svg viewBox="0 0 14 14"><path d="M3 6.400l2.700 2.900 5.300-5.200" fill="none" stroke="#bccfb7" stroke-width="0.950"/></svg></div>
<div class="c s" style="left:395px;top:454px"><svg viewBox="0 0 14 14"><path d="M3 6.400l2.700 2.900 5.300-5.200" fill="none" stroke="#bccfb7" stroke-width="0.950"/></svg></div>
<div class="c s" style="left:413px;top:454px"><svg viewBox="0 0 14 14"><path d="M3 6.400l2.700 2.900 5.300-5.200" fill="none" stroke="#bccfb7" stroke-width="0.950"/></svg></div>
<div class="c s" style="left:431px;top:454px"><svg viewBox="0 0 14 14"><path d="M3 6.400l2.700 2.900 5.300-5.200" fill="none" stroke="#bccfb7" stroke-width="0.950"/></svg></div>
<div class="c s" style="left:449px;top:454px"><svg viewBox="0 0 14 14"><path d="M3 6.400l2.700 2.900 5.300-5.200" fill="none" stroke="#bccfb7" stroke-width="0.950"/></svg></div>
<div class="c s" style="left:467px;top:454px"><svg viewBox="0 0 14 14"><path d="M3 6.400l2.700 2.900 5.300-5.200" fill="none" stroke="#bccfb7" stroke-width="0.950"/></svg></div>
<div class="c s" style="left:485px;top:454px"><svg viewBox="0 0 14 14"><path d="M3 6.400l2.700 2.900 5.300-5.200" fill="none" stroke="#bccfb7" stroke-width="0.950"/></svg></div>
<div class="trl" style="top:489px"></div>
<div class="t" style="left:99.60px;top:473.65px;font-size:14px;color:#f4f4f5;letter-spacing:0.188px;">chain_linear_t9</div>
<div class="c s" style="left:323px;top:474px"><svg viewBox="0 0 14 14"><path d="M3 6.400l2.700 2.900 5.300-5.200" fill="none" stroke="#bccfb7" stroke-width="0.950"/></svg></div>
<div class="c s" style="left:341px;top:474px"><svg viewBox="0 0 14 14"><path d="M3 6.400l2.700 2.900 5.300-5.200" fill="none" stroke="#bccfb7" stroke-width="0.950"/></svg></div>
<div class="c s" style="left:359px;top:474px"><svg viewBox="0 0 14 14"><path d="M3 6.400l2.700 2.900 5.300-5.200" fill="none" stroke="#bccfb7" stroke-width="0.950"/></svg></div>
<div class="c s" style="left:377px;top:474px"><svg viewBox="0 0 14 14"><path d="M3 6.400l2.700 2.900 5.300-5.200" fill="none" stroke="#bccfb7" stroke-width="0.950"/></svg></div>
<div class="c s" style="left:395px;top:474px"><svg viewBox="0 0 14 14"><path d="M3 6.400l2.700 2.900 5.300-5.200" fill="none" stroke="#bccfb7" stroke-width="0.950"/></svg></div>
<div class="c s" style="left:413px;top:474px"><svg viewBox="0 0 14 14"><path d="M3 6.400l2.700 2.900 5.300-5.200" fill="none" stroke="#bccfb7" stroke-width="0.950"/></svg></div>
<div class="c s" style="left:431px;top:474px"><svg viewBox="0 0 14 14"><path d="M3 6.400l2.700 2.900 5.300-5.200" fill="none" stroke="#bccfb7" stroke-width="0.950"/></svg></div>
<div class="c s" style="left:449px;top:474px"><svg viewBox="0 0 14 14"><path d="M3 6.400l2.700 2.900 5.300-5.200" fill="none" stroke="#bccfb7" stroke-width="0.950"/></svg></div>
<div class="c s" style="left:467px;top:474px"><svg viewBox="0 0 14 14"><path d="M3 6.400l2.700 2.900 5.300-5.200" fill="none" stroke="#bccfb7" stroke-width="0.950"/></svg></div>
<div class="c s" style="left:485px;top:474px"><svg viewBox="0 0 14 14"><path d="M3 6.400l2.700 2.900 5.300-5.200" fill="none" stroke="#bccfb7" stroke-width="0.950"/></svg></div>
<div class="trl" style="top:509px"></div>
<div class="t" style="left:99.60px;top:493.65px;font-size:14px;color:#f4f4f5;letter-spacing:0.035px;">chain_t10</div>
<div class="c s" style="left:323px;top:494px"><svg viewBox="0 0 14 14"><path d="M3 6.400l2.700 2.900 5.300-5.200" fill="none" stroke="#bccfb7" stroke-width="0.950"/></svg></div>
<div class="c s" style="left:341px;top:494px"><svg viewBox="0 0 14 14"><path d="M3 6.400l2.700 2.900 5.300-5.200" fill="none" stroke="#bccfb7" stroke-width="0.950"/></svg></div>
<div class="c s" style="left:359px;top:494px"><svg viewBox="0 0 14 14"><path d="M3 6.400l2.700 2.900 5.300-5.200" fill="none" stroke="#bccfb7" stroke-width="0.950"/></svg></div>
<div class="c s" style="left:377px;top:494px"><svg viewBox="0 0 14 14"><path d="M3 6.400l2.700 2.900 5.300-5.200" fill="none" stroke="#bccfb7" stroke-width="0.950"/></svg></div>
<div class="c s" style="left:395px;top:494px"><svg viewBox="0 0 14 14"><path d="M3 6.400l2.700 2.900 5.300-5.200" fill="none" stroke="#bccfb7" stroke-width="0.950"/></svg></div>
<div class="c s" style="left:413px;top:494px"><svg viewBox="0 0 14 14"><path d="M3 6.400l2.700 2.900 5.300-5.200" fill="none" stroke="#bccfb7" stroke-width="0.950"/></svg></div>
<div class="c s" style="left:431px;top:494px"><svg viewBox="0 0 14 14"><path d="M3 6.400l2.700 2.900 5.300-5.200" fill="none" stroke="#bccfb7" stroke-width="0.950"/></svg></div>
<div class="c s" style="left:449px;top:494px"><svg viewBox="0 0 14 14"><path d="M3 6.400l2.700 2.900 5.300-5.200" fill="none" stroke="#bccfb7" stroke-width="0.950"/></svg></div>
<div class="c s" style="left:467px;top:494px"><svg viewBox="0 0 14 14"><path d="M3 6.400l2.700 2.900 5.300-5.200" fill="none" stroke="#bccfb7" stroke-width="0.950"/></svg></div>
<div class="c s" style="left:485px;top:494px"><svg viewBox="0 0 14 14"><path d="M3 6.400l2.700 2.900 5.300-5.200" fill="none" stroke="#bccfb7" stroke-width="0.950"/></svg></div>
<div class="trl" style="top:529px"></div>
<div class="t" style="left:99.60px;top:513.65px;font-size:14px;color:#f4f4f5;letter-spacing:-0.097px;">chain_t11</div>
<div class="c s" style="left:323px;top:514px"><svg viewBox="0 0 14 14"><path d="M3 6.400l2.700 2.900 5.300-5.200" fill="none" stroke="#bccfb7" stroke-width="0.950"/></svg></div>
<div class="c s" style="left:341px;top:514px"><svg viewBox="0 0 14 14"><path d="M3 6.400l2.700 2.900 5.300-5.200" fill="none" stroke="#bccfb7" stroke-width="0.950"/></svg></div>
<div class="c s" style="left:359px;top:514px"><svg viewBox="0 0 14 14"><path d="M3 6.400l2.700 2.900 5.300-5.200" fill="none" stroke="#bccfb7" stroke-width="0.950"/></svg></div>
<div class="c s" style="left:377px;top:514px"><svg viewBox="0 0 14 14"><path d="M3 6.400l2.700 2.900 5.300-5.200" fill="none" stroke="#bccfb7" stroke-width="0.950"/></svg></div>
<div class="c s" style="left:395px;top:514px"><svg viewBox="0 0 14 14"><path d="M3 6.400l2.700 2.900 5.300-5.200" fill="none" stroke="#bccfb7" stroke-width="0.950"/></svg></div>
<div class="c s" style="left:413px;top:514px"><svg viewBox="0 0 14 14"><path d="M3 6.400l2.700 2.900 5.300-5.200" fill="none" stroke="#bccfb7" stroke-width="0.950"/></svg></div>
<div class="c s" style="left:431px;top:514px"><svg viewBox="0 0 14 14"><path d="M3 6.400l2.700 2.900 5.300-5.200" fill="none" stroke="#bccfb7" stroke-width="0.950"/></svg></div>
<div class="c s" style="left:449px;top:514px"><svg viewBox="0 0 14 14"><path d="M3 6.400l2.700 2.900 5.300-5.200" fill="none" stroke="#bccfb7" stroke-width="0.950"/></svg></div>
<div class="c s" style="left:467px;top:514px"><svg viewBox="0 0 14 14"><path d="M3 6.400l2.700 2.900 5.300-5.200" fill="none" stroke="#bccfb7" stroke-width="0.950"/></svg></div>
<div class="c s" style="left:485px;top:514px"><svg viewBox="0 0 14 14"><path d="M3 6.400l2.700 2.900 5.300-5.200" fill="none" stroke="#bccfb7" stroke-width="0.950"/></svg></div>
<div class="trl" style="top:549px"></div>
<div class="t" style="left:99.60px;top:533.65px;font-size:14px;color:#f4f4f5;letter-spacing:-0.400px;">empty_1</div>
<div class="c f" style="left:323px;top:534px"><svg viewBox="0 0 14 14"><path d="M4.200 4.200l5.600 5.600M9.800 4.200l-5.600 5.600" fill="none" stroke="#fff" stroke-width="1.150"/></svg></div>
<div class="c s" style="left:341px;top:534px"><svg viewBox="0 0 14 14"><path d="M3 6.400l2.700 2.900 5.300-5.200" fill="none" stroke="#bccfb7" stroke-width="0.950"/></svg></div>
<div class="c f" style="left:359px;top:534px"><svg viewBox="0 0 14 14"><path d="M4.200 4.200l5.600 5.600M9.800 4.200l-5.600 5.600" fill="none" stroke="#fff" stroke-width="1.150"/></svg></div>
<div class="c f" style="left:377px;top:534px"><svg viewBox="0 0 14 14"><path d="M4.200 4.200l5.600 5.600M9.800 4.200l-5.600 5.600" fill="none" stroke="#fff" stroke-width="1.150"/></svg></div>
<div class="c f" style="left:395px;top:534px"><svg viewBox="0 0 14 14"><path d="M4.200 4.200l5.600 5.600M9.800 4.200l-5.600 5.600" fill="none" stroke="#fff" stroke-width="1.150"/></svg></div>
<div class="c s" style="left:413px;top:534px"><svg viewBox="0 0 14 14"><path d="M3 6.400l2.700 2.900 5.300-5.200" fill="none" stroke="#bccfb7" stroke-width="0.950"/></svg></div>
<div class="c f" style="left:431px;top:534px"><svg viewBox="0 0 14 14"><path d="M4.200 4.200l5.600 5.600M9.800 4.200l-5.600 5.600" fill="none" stroke="#fff" stroke-width="1.150"/></svg></div>
<div class="c s" style="left:449px;top:534px"><svg viewBox="0 0 14 14"><path d="M3 6.400l2.700 2.900 5.300-5.200" fill="none" stroke="#bccfb7" stroke-width="0.950"/></svg></div>
<div class="c s" style="left:467px;top:534px"><svg viewBox="0 0 14 14"><path d="M3 6.400l2.700 2.900 5.300-5.200" fill="none" stroke="#bccfb7" stroke-width="0.950"/></svg></div>
<div class="c s" style="left:485px;top:534px"><svg viewBox="0 0 14 14"><path d="M3 6.400l2.700 2.900 5.300-5.200" fill="none" stroke="#bccfb7" stroke-width="0.950"/></svg></div>
<div class="trl" style="top:569px"></div>
<div class="t" style="left:99.60px;top:553.65px;font-size:14px;color:#f4f4f5;letter-spacing:0.150px;">end_chain_linear</div>
<div class="c s" style="left:323px;top:554px"><svg viewBox="0 0 14 14"><path d="M3 6.400l2.700 2.900 5.300-5.200" fill="none" stroke="#bccfb7" stroke-width="0.950"/></svg></div>
<div class="c s" style="left:341px;top:554px"><svg viewBox="0 0 14 14"><path d="M3 6.400l2.700 2.900 5.300-5.200" fill="none" stroke="#bccfb7" stroke-width="0.950"/></svg></div>
<div class="c s" style="left:359px;top:554px"><svg viewBox="0 0 14 14"><path d="M3 6.400l2.700 2.900 5.300-5.200" fill="none" stroke="#bccfb7" stroke-width="0.950"/></svg></div>
<div class="c s" style="left:377px;top:554px"><svg viewBox="0 0 14 14"><path d="M3 6.400l2.700 2.900 5.300-5.200" fill="none" stroke="#bccfb7" stroke-width="0.950"/></svg></div>
<div class="c s" style="left:395px;top:554px"><svg viewBox="0 0 14 14"><path d="M3 6.400l2.700 2.900 5.300-5.200" fill="none" stroke="#bccfb7" stroke-width="0.950"/></svg></div>
<div class="c s" style="left:413px;top:554px"><svg viewBox="0 0 14 14"><path d="M3 6.400l2.700 2.900 5.300-5.200" fill="none" stroke="#bccfb7" stroke-width="0.950"/></svg></div>
<div class="c s" style="left:431px;top:554px"><svg viewBox="0 0 14 14"><path d="M3 6.400l2.700 2.900 5.300-5.200" fill="none" stroke="#bccfb7" stroke-width="0.950"/></svg></div>
<div class="c s" style="left:449px;top:554px"><svg viewBox="0 0 14 14"><path d="M3 6.400l2.700 2.900 5.300-5.200" fill="none" stroke="#bccfb7" stroke-width="0.950"/></svg></div>
<div class="c s" style="left:467px;top:554px"><svg viewBox="0 0 14 14"><path d="M3 6.400l2.700 2.900 5.300-5.200" fill="none" stroke="#bccfb7" stroke-width="0.950"/></svg></div>
<div class="c s" style="left:485px;top:554px"><svg viewBox="0 0 14 14"><path d="M3 6.400l2.700 2.900 5.300-5.200" fill="none" stroke="#bccfb7" stroke-width="0.950"/></svg></div>
<div class="trl" style="top:589px"></div>
<div class="t" style="left:99.60px;top:573.65px;font-size:14px;color:#f4f4f5;letter-spacing:-0.002px;">chain_t12</div>
<div class="c u" style="left:323px;top:574px"><svg viewBox="0 0 14 14"><circle cx="7" cy="7" r="4.600" fill="none" stroke="#4a2408" stroke-width="0.900" stroke-dasharray="5.500 1.700" transform="rotate(-70 7 7)"/><circle cx="7" cy="7.100" r="1.900" fill="#9a5012" stroke="#4a2408" stroke-width="0.600"/><circle cx="7" cy="5.800" r="0.950" fill="#160a02"/></svg></div>
<div class="c s" style="left:341px;top:574px"><svg viewBox="0 0 14 14"><path d="M3 6.400l2.700 2.900 5.300-5.200" fill="none" stroke="#bccfb7" stroke-width="0.950"/></svg></div>
<div class="c u" style="left:359px;top:574px"><svg viewBox="0 0 14 14"><circle cx="7" cy="7" r="4.600" fill="none" stroke="#4a2408" stroke-width="0.900" stroke-dasharray="5.500 1.700" transform="rotate(-70 7 7)"/><circle cx="7" cy="7.100" r="1.900" fill="#9a5012" stroke="#4a2408" stroke-width="0.600"/><circle cx="7" cy="5.800" r="0.950" fill="#160a02"/></svg></div>
<div class="c u" style="left:377px;top:574px"><svg viewBox="0 0 14 14"><circle cx="7" cy="7" r="4.600" fill="none" stroke="#4a2408" stroke-width="0.900" stroke-dasharray="5.500 1.700" transform="rotate(-70 7 7)"/><circle cx="7" cy="7.100" r="1.900" fill="#9a5012" stroke="#4a2408" stroke-width="0.600"/><circle cx="7" cy="5.800" r="0.950" fill="#160a02"/></svg></div>
<div class="c u" style="left:395px;top:574px"><svg viewBox="0 0 14 14"><circle cx="7" cy="7" r="4.600" fill="none" stroke="#4a2408" stroke-width="0.900" stroke-dasharray="5.500 1.700" transform="rotate(-70 7 7)"/><circle cx="7" cy="7.100" r="1.900" fill="#9a5012" stroke="#4a2408" stroke-width="0.600"/><circle cx="7" cy="5.800" r="0.950" fill="#160a02"/></svg></div>
<div class="c s" style="left:413px;top:574px"><svg viewBox="0 0 14 14"><path d="M3 6.400l2.700 2.900 5.300-5.200" fill="none" stroke="#bccfb7" stroke-width="0.950"/></svg></div>
<div class="c u" style="left:431px;top:574px"><svg viewBox="0 0 14 14"><circle cx="7" cy="7" r="4.600" fill="none" stroke="#4a2408" stroke-width="0.900" stroke-dasharray="5.500 1.700" transform="rotate(-70 7 7)"/><circle cx="7" cy="7.100" r="1.900" fill="#9a5012" stroke="#4a2408" stroke-width="0.600"/><circle cx="7" cy="5.800" r="0.950" fill="#160a02"/></svg></div>
<div class="c s" style="left:449px;top:574px"><svg viewBox="0 0 14 14"><path d="M3 6.400l2.700 2.900 5.300-5.200" fill="none" stroke="#bccfb7" stroke-width="0.950"/></svg></div>
<div class="c s" style="left:467px;top:574px"><svg viewBox="0 0 14 14"><path d="M3 6.400l2.700 2.900 5.300-5.200" fill="none" stroke="#bccfb7" stroke-width="0.950"/></svg></div>
<div class="c s" style="left:485px;top:574px"><svg viewBox="0 0 14 14"><path d="M3 6.400l2.700 2.900 5.300-5.200" fill="none" stroke="#bccfb7" stroke-width="0.950"/></svg></div>
<div class="trl" style="top:609px"></div>
<div class="t" style="left:99.60px;top:593.65px;font-size:14px;color:#f4f4f5;letter-spacing:0.035px;">chain_t13</div>
<div class="c u" style="left:323px;top:594px"><svg viewBox="0 0 14 14"><circle cx="7" cy="7" r="4.600" fill="none" stroke="#4a2408" stroke-width="0.900" stroke-dasharray="5.500 1.700" transform="rotate(-70 7 7)"/><circle cx="7" cy="7.100" r="1.900" fill="#9a5012" stroke="#4a2408" stroke-width="0.600"/><circle cx="7" cy="5.800" r="0.950" fill="#160a02"/></svg></div>
<div class="c s" style="left:341px;top:594px"><svg viewBox="0 0 14 14"><path d="M3 6.400l2.700 2.900 5.300-5.200" fill="none" stroke="#bccfb7" stroke-width="0.950"/></svg></div>
<div class="c u" style="left:359px;top:594px"><svg viewBox="0 0 14 14"><circle cx="7" cy="7" r="4.600" fill="none" stroke="#4a2408" stroke-width="0.900" stroke-dasharray="5.500 1.700" transform="rotate(-70 7 7)"/><circle cx="7" cy="7.100" r="1.900" fill="#9a5012" stroke="#4a2408" stroke-width="0.600"/><circle cx="7" cy="5.800" r="0.950" fill="#160a02"/></svg></div>
<div class="c u" style="left:377px;top:594px"><svg viewBox="0 0 14 14"><circle cx="7" cy="7" r="4.600" fill="none" stroke="#4a2408" stroke-width="0.900" stroke-dasharray="5.500 1.700" transform="rotate(-70 7 7)"/><circle cx="7" cy="7.100" r="1.900" fill="#9a5012" stroke="#4a2408" stroke-width="0.600"/><circle cx="7" cy="5.800" r="0.950" fill="#160a02"/></svg></div>
<div class="c u" style="left:395px;top:594px"><svg viewBox="0 0 14 14"><circle cx="7" cy="7" r="4.600" fill="none" stroke="#4a2408" stroke-width="0.900" stroke-dasharray="5.500 1.700" transform="rotate(-70 7 7)"/><circle cx="7" cy="7.100" r="1.900" fill="#9a5012" stroke="#4a2408" stroke-width="0.600"/><circle cx="7" cy="5.800" r="0.950" fill="#160a02"/></svg></div>
<div class="c s" style="left:413px;top:594px"><svg viewBox="0 0 14 14"><path d="M3 6.400l2.700 2.900 5.300-5.200" fill="none" stroke="#bccfb7" stroke-width="0.950"/></svg></div>
<div class="c u" style="left:431px;top:594px"><svg viewBox="0 0 14 14"><circle cx="7" cy="7" r="4.600" fill="none" stroke="#4a2408" stroke-width="0.900" stroke-dasharray="5.500 1.700" transform="rotate(-70 7 7)"/><circle cx="7" cy="7.100" r="1.900" fill="#9a5012" stroke="#4a2408" stroke-width="0.600"/><circle cx="7" cy="5.800" r="0.950" fill="#160a02"/></svg></div>
<div class="c s" style="left:449px;top:594px"><svg viewBox="0 0 14 14"><path d="M3 6.400l2.700 2.900 5.300-5.200" fill="none" stroke="#bccfb7" stroke-width="0.950"/></svg></div>
<div class="c s" style="left:467px;top:594px"><svg viewBox="0 0 14 14"><path d="M3 6.400l2.700 2.900 5.300-5.200" fill="none" stroke="#bccfb7" stroke-width="0.950"/></svg></div>
<div class="c s" style="left:485px;top:594px"><svg viewBox="0 0 14 14"><path d="M3 6.400l2.700 2.900 5.300-5.200" fill="none" stroke="#bccfb7" stroke-width="0.950"/></svg></div>
<div class="trl" style="top:629px"></div>
<div class="t" style="left:99.60px;top:613.65px;font-size:14px;color:#f4f4f5;letter-spacing:0.035px;">chain_t14</div>
<div class="c u" style="left:323px;top:614px"><svg viewBox="0 0 14 14"><circle cx="7" cy="7" r="4.600" fill="none" stroke="#4a2408" stroke-width="0.900" stroke-dasharray="5.500 1.700" transform="rotate(-70 7 7)"/><circle cx="7" cy="7.100" r="1.900" fill="#9a5012" stroke="#4a2408" stroke-width="0.600"/><circle cx="7" cy="5.800" r="0.950" fill="#160a02"/></svg></div>
<div class="c s" style="left:341px;top:614px"><svg viewBox="0 0 14 14"><path d="M3 6.400l2.700 2.900 5.300-5.200" fill="none" stroke="#bccfb7" stroke-width="0.950"/></svg></div>
<div class="c u" style="left:359px;top:614px"><svg viewBox="0 0 14 14"><circle cx="7" cy="7" r="4.600" fill="none" stroke="#4a2408" stroke-width="0.900" stroke-dasharray="5.500 1.700" transform="rotate(-70 7 7)"/><circle cx="7" cy="7.100" r="1.900" fill="#9a5012" stroke="#4a2408" stroke-width="0.600"/><circle cx="7" cy="5.800" r="0.950" fill="#160a02"/></svg></div>
<div class="c u" style="left:377px;top:614px"><svg viewBox="0 0 14 14"><circle cx="7" cy="7" r="4.600" fill="none" stroke="#4a2408" stroke-width="0.900" stroke-dasharray="5.500 1.700" transform="rotate(-70 7 7)"/><circle cx="7" cy="7.100" r="1.900" fill="#9a5012" stroke="#4a2408" stroke-width="0.600"/><circle cx="7" cy="5.800" r="0.950" fill="#160a02"/></svg></div>
<div class="c u" style="left:395px;top:614px"><svg viewBox="0 0 14 14"><circle cx="7" cy="7" r="4.600" fill="none" stroke="#4a2408" stroke-width="0.900" stroke-dasharray="5.500 1.700" transform="rotate(-70 7 7)"/><circle cx="7" cy="7.100" r="1.900" fill="#9a5012" stroke="#4a2408" stroke-width="0.600"/><circle cx="7" cy="5.800" r="0.950" fill="#160a02"/></svg></div>
<div class="c s" style="left:413px;top:614px"><svg viewBox="0 0 14 14"><path d="M3 6.400l2.700 2.900 5.300-5.200" fill="none" stroke="#bccfb7" stroke-width="0.950"/></svg></div>
<div class="c u" style="left:431px;top:614px"><svg viewBox="0 0 14 14"><circle cx="7" cy="7" r="4.600" fill="none" stroke="#4a2408" stroke-width="0.900" stroke-dasharray="5.500 1.700" transform="rotate(-70 7 7)"/><circle cx="7" cy="7.100" r="1.900" fill="#9a5012" stroke="#4a2408" stroke-width="0.600"/><circle cx="7" cy="5.800" r="0.950" fill="#160a02"/></svg></div>
<div class="c s" style="left:449px;top:614px"><svg viewBox="0 0 14 14"><path d="M3 6.400l2.700 2.900 5.300-5.200" fill="none" stroke="#bccfb7" stroke-width="0.950"/></svg></div>
<div class="c s" style="left:467px;top:614px"><svg viewBox="0 0 14 14"><path d="M3 6.400l2.700 2.900 5.300-5.200" fill="none" stroke="#bccfb7" stroke-width="0.950"/></svg></div>
<div class="c s" style="left:485px;top:614px"><svg viewBox="0 0 14 14"><path d="M3 6.400l2.700 2.900 5.300-5.200" fill="none" stroke="#bccfb7" stroke-width="0.950"/></svg></div>
<div class="trl" style="top:649px"></div>
<div class="t" style="left:99.60px;top:633.65px;font-size:14px;color:#f4f4f5;letter-spacing:0.035px;">chain_t15</div>
<div class="c u" style="left:323px;top:634px"><svg viewBox="0 0 14 14"><circle cx="7" cy="7" r="4.600" fill="none" stroke="#4a2408" stroke-width="0.900" stroke-dasharray="5.500 1.700" transform="rotate(-70 7 7)"/><circle cx="7" cy="7.100" r="1.900" fill="#9a5012" stroke="#4a2408" stroke-width="0.600"/><circle cx="7" cy="5.800" r="0.950" fill="#160a02"/></svg></div>
<div class="c s" style="left:341px;top:634px"><svg viewBox="0 0 14 14"><path d="M3 6.400l2.700 2.900 5.300-5.200" fill="none" stroke="#bccfb7" stroke-width="0.950"/></svg></div>
<div class="c u" style="left:359px;top:634px"><svg viewBox="0 0 14 14"><circle cx="7" cy="7" r="4.600" fill="none" stroke="#4a2408" stroke-width="0.900" stroke-dasharray="5.500 1.700" transform="rotate(-70 7 7)"/><circle cx="7" cy="7.100" r="1.900" fill="#9a5012" stroke="#4a2408" stroke-width="0.600"/><circle cx="7" cy="5.800" r="0.950" fill="#160a02"/></svg></div>
<div class="c u" style="left:377px;top:634px"><svg viewBox="0 0 14 14"><circle cx="7" cy="7" r="4.600" fill="none" stroke="#4a2408" stroke-width="0.900" stroke-dasharray="5.500 1.700" transform="rotate(-70 7 7)"/><circle cx="7" cy="7.100" r="1.900" fill="#9a5012" stroke="#4a2408" stroke-width="0.600"/><circle cx="7" cy="5.800" r="0.950" fill="#160a02"/></svg></div>
<div class="c u" style="left:395px;top:634px"><svg viewBox="0 0 14 14"><circle cx="7" cy="7" r="4.600" fill="none" stroke="#4a2408" stroke-width="0.900" stroke-dasharray="5.500 1.700" transform="rotate(-70 7 7)"/><circle cx="7" cy="7.100" r="1.900" fill="#9a5012" stroke="#4a2408" stroke-width="0.600"/><circle cx="7" cy="5.800" r="0.950" fill="#160a02"/></svg></div>
<div class="c s" style="left:413px;top:634px"><svg viewBox="0 0 14 14"><path d="M3 6.400l2.700 2.900 5.300-5.200" fill="none" stroke="#bccfb7" stroke-width="0.950"/></svg></div>
<div class="c u" style="left:431px;top:634px"><svg viewBox="0 0 14 14"><circle cx="7" cy="7" r="4.600" fill="none" stroke="#4a2408" stroke-width="0.900" stroke-dasharray="5.500 1.700" transform="rotate(-70 7 7)"/><circle cx="7" cy="7.100" r="1.900" fill="#9a5012" stroke="#4a2408" stroke-width="0.600"/><circle cx="7" cy="5.800" r="0.950" fill="#160a02"/></svg></div>
<div class="c s" style="left:449px;top:634px"><svg viewBox="0 0 14 14"><path d="M3 6.400l2.700 2.900 5.300-5.200" fill="none" stroke="#bccfb7" stroke-width="0.950"/></svg></div>
<div class="c s" style="left:467px;top:634px"><svg viewBox="0 0 14 14"><path d="M3 6.400l2.700 2.900 5.300-5.200" fill="none" stroke="#bccfb7" stroke-width="0.950"/></svg></div>
<div class="c s" style="left:485px;top:634px"><svg viewBox="0 0 14 14"><path d="M3 6.400l2.700 2.900 5.300-5.200" fill="none" stroke="#bccfb7" stroke-width="0.950"/></svg></div>
<div class="trl" style="top:669px"></div>
<div class="t" style="left:99.60px;top:653.65px;font-size:14px;color:#f4f4f5;letter-spacing:0.035px;">chain_t16</div>
<div class="c u" style="left:323px;top:654px"><svg viewBox="0 0 14 14"><circle cx="7" cy="7" r="4.600" fill="none" stroke="#4a2408" stroke-width="0.900" stroke-dasharray="5.500 1.700" transform="rotate(-70 7 7)"/><circle cx="7" cy="7.100" r="1.900" fill="#9a5012" stroke="#4a2408" stroke-width="0.600"/><circle cx="7" cy="5.800" r="0.950" fill="#160a02"/></svg></div>
<div class="c s" style="left:341px;top:654px"><svg viewBox="0 0 14 14"><path d="M3 6.400l2.700 2.900 5.300-5.200" fill="none" stroke="#bccfb7" stroke-width="0.950"/></svg></div>
<div class="c u" style="left:359px;top:654px"><svg viewBox="0 0 14 14"><circle cx="7" cy="7" r="4.600" fill="none" stroke="#4a2408" stroke-width="0.900" stroke-dasharray="5.500 1.700" transform="rotate(-70 7 7)"/><circle cx="7" cy="7.100" r="1.900" fill="#9a5012" stroke="#4a2408" stroke-width="0.600"/><circle cx="7" cy="5.800" r="0.950" fill="#160a02"/></svg></div>
<div class="c u" style="left:377px;top:654px"><svg viewBox="0 0 14 14"><circle cx="7" cy="7" r="4.600" fill="none" stroke="#4a2408" stroke-width="0.900" stroke-dasharray="5.500 1.700" transform="rotate(-70 7 7)"/><circle cx="7" cy="7.100" r="1.900" fill="#9a5012" stroke="#4a2408" stroke-width="0.600"/><circle cx="7" cy="5.800" r="0.950" fill="#160a02"/></svg></div>
<div class="c u" style="left:395px;top:654px"><svg viewBox="0 0 14 14"><circle cx="7" cy="7" r="4.600" fill="none" stroke="#4a2408" stroke-width="0.900" stroke-dasharray="5.500 1.700" transform="rotate(-70 7 7)"/><circle cx="7" cy="7.100" r="1.900" fill="#9a5012" stroke="#4a2408" stroke-width="0.600"/><circle cx="7" cy="5.800" r="0.950" fill="#160a02"/></svg></div>
<div class="c s" style="left:413px;top:654px"><svg viewBox="0 0 14 14"><path d="M3 6.400l2.700 2.900 5.300-5.200" fill="none" stroke="#bccfb7" stroke-width="0.950"/></svg></div>
<div class="c u" style="left:431px;top:654px"><svg viewBox="0 0 14 14"><circle cx="7" cy="7" r="4.600" fill="none" stroke="#4a2408" stroke-width="0.900" stroke-dasharray="5.500 1.700" transform="rotate(-70 7 7)"/><circle cx="7" cy="7.100" r="1.900" fill="#9a5012" stroke="#4a2408" stroke-width="0.600"/><circle cx="7" cy="5.800" r="0.950" fill="#160a02"/></svg></div>
<div class="c s" style="left:449px;top:654px"><svg viewBox="0 0 14 14"><path d="M3 6.400l2.700 2.900 5.300-5.200" fill="none" stroke="#bccfb7" stroke-width="0.950"/></svg></div>
<div class="c s" style="left:467px;top:654px"><svg viewBox="0 0 14 14"><path d="M3 6.400l2.700 2.900 5.300-5.200" fill="none" stroke="#bccfb7" stroke-width="0.950"/></svg></div>
<div class="c s" style="left:485px;top:654px"><svg viewBox="0 0 14 14"><path d="M3 6.400l2.700 2.900 5.300-5.200" fill="none" stroke="#bccfb7" stroke-width="0.950"/></svg></div>
<div class="trl" style="top:689px"></div>
<div class="t" style="left:99.60px;top:673.65px;font-size:14px;color:#f4f4f5;letter-spacing:-0.102px;">chain_t17</div>
<div class="c u" style="left:323px;top:674px"><svg viewBox="0 0 14 14"><circle cx="7" cy="7" r="4.600" fill="none" stroke="#4a2408" stroke-width="0.900" stroke-dasharray="5.500 1.700" transform="rotate(-70 7 7)"/><circle cx="7" cy="7.100" r="1.900" fill="#9a5012" stroke="#4a2408" stroke-width="0.600"/><circle cx="7" cy="5.800" r="0.950" fill="#160a02"/></svg></div>
<div class="c s" style="left:341px;top:674px"><svg viewBox="0 0 14 14"><path d="M3 6.400l2.700 2.900 5.300-5.200" fill="none" stroke="#bccfb7" stroke-width="0.950"/></svg></div>
<div class="c u" style="left:359px;top:674px"><svg viewBox="0 0 14 14"><circle cx="7" cy="7" r="4.600" fill="none" stroke="#4a2408" stroke-width="0.900" stroke-dasharray="5.500 1.700" transform="rotate(-70 7 7)"/><circle cx="7" cy="7.100" r="1.900" fill="#9a5012" stroke="#4a2408" stroke-width="0.600"/><circle cx="7" cy="5.800" r="0.950" fill="#160a02"/></svg></div>
<div class="c u" style="left:377px;top:674px"><svg viewBox="0 0 14 14"><circle cx="7" cy="7" r="4.600" fill="none" stroke="#4a2408" stroke-width="0.900" stroke-dasharray="5.500 1.700" transform="rotate(-70 7 7)"/><circle cx="7" cy="7.100" r="1.900" fill="#9a5012" stroke="#4a2408" stroke-width="0.600"/><circle cx="7" cy="5.800" r="0.950" fill="#160a02"/></svg></div>
<div class="c u" style="left:395px;top:674px"><svg viewBox="0 0 14 14"><circle cx="7" cy="7" r="4.600" fill="none" stroke="#4a2408" stroke-width="0.900" stroke-dasharray="5.500 1.700" transform="rotate(-70 7 7)"/><circle cx="7" cy="7.100" r="1.900" fill="#9a5012" stroke="#4a2408" stroke-width="0.600"/><circle cx="7" cy="5.800" r="0.950" fill="#160a02"/></svg></div>
<div class="c s" style="left:413px;top:674px"><svg viewBox="0 0 14 14"><path d="M3 6.400l2.700 2.900 5.300-5.200" fill="none" stroke="#bccfb7" stroke-width="0.950"/></svg></div>
<div class="c u" style="left:431px;top:674px"><svg viewBox="0 0 14 14"><circle cx="7" cy="7" r="4.600" fill="none" stroke="#4a2408" stroke-width="0.900" stroke-dasharray="5.500 1.700" transform="rotate(-70 7 7)"/><circle cx="7" cy="7.100" r="1.900" fill="#9a5012" stroke="#4a2408" stroke-width="0.600"/><circle cx="7" cy="5.800" r="0.950" fill="#160a02"/></svg></div>
<div class="c s" style="left:449px;top:674px"><svg viewBox="0 0 14 14"><path d="M3 6.400l2.700 2.900 5.300-5.200" fill="none" stroke="#bccfb7" stroke-width="0.950"/></svg></div>
<div class="c s" style="left:467px;top:674px"><svg viewBox="0 0 14 14"><path d="M3 6.400l2.700 2.900 5.300-5.200" fill="none" stroke="#bccfb7" stroke-width="0.950"/></svg></div>
<div class="c s" style="left:485px;top:674px"><svg viewBox="0 0 14 14"><path d="M3 6.400l2.700 2.900 5.300-5.200" fill="none" stroke="#bccfb7" stroke-width="0.950"/></svg></div>
<div class="trl" style="top:709px"></div>
<div class="t" style="left:99.60px;top:693.65px;font-size:14px;color:#f4f4f5;letter-spacing:0.134px;">empty_2</div>
<div class="c u" style="left:323px;top:694px"><svg viewBox="0 0 14 14"><circle cx="7" cy="7" r="4.600" fill="none" stroke="#4a2408" stroke-width="0.900" stroke-dasharray="5.500 1.700" transform="rotate(-70 7 7)"/><circle cx="7" cy="7.100" r="1.900" fill="#9a5012" stroke="#4a2408" stroke-width="0.600"/><circle cx="7" cy="5.800" r="0.950" fill="#160a02"/></svg></div>
<div class="c s" style="left:341px;top:694px"><svg viewBox="0 0 14 14"><path d="M3 6.400l2.700 2.900 5.300-5.200" fill="none" stroke="#bccfb7" stroke-width="0.950"/></svg></div>
<div class="c u" style="left:359px;top:694px"><svg viewBox="0 0 14 14"><circle cx="7" cy="7" r="4.600" fill="none" stroke="#4a2408" stroke-width="0.900" stroke-dasharray="5.500 1.700" transform="rotate(-70 7 7)"/><circle cx="7" cy="7.100" r="1.900" fill="#9a5012" stroke="#4a2408" stroke-width="0.600"/><circle cx="7" cy="5.800" r="0.950" fill="#160a02"/></svg></div>
<div class="c u" style="left:377px;top:694px"><svg viewBox="0 0 14 14"><circle cx="7" cy="7" r="4.600" fill="none" stroke="#4a2408" stroke-width="0.900" stroke-dasharray="5.500 1.700" transform="rotate(-70 7 7)"/><circle cx="7" cy="7.100" r="1.900" fill="#9a5012" stroke="#4a2408" stroke-width="0.600"/><circle cx="7" cy="5.800" r="0.950" fill="#160a02"/></svg></div>
<div class="c u" style="left:395px;top:694px"><svg viewBox="0 0 14 14"><circle cx="7" cy="7" r="4.600" fill="none" stroke="#4a2408" stroke-width="0.900" stroke-dasharray="5.500 1.700" transform="rotate(-70 7 7)"/><circle cx="7" cy="7.100" r="1.900" fill="#9a5012" stroke="#4a2408" stroke-width="0.600"/><circle cx="7" cy="5.800" r="0.950" fill="#160a02"/></svg></div>
<div class="c s" style="left:413px;top:694px"><svg viewBox="0 0 14 14"><path d="M3 6.400l2.700 2.900 5.300-5.200" fill="none" stroke="#bccfb7" stroke-width="0.950"/></svg></div>
<div class="c u" style="left:431px;top:694px"><svg viewBox="0 0 14 14"><circle cx="7" cy="7" r="4.600" fill="none" stroke="#4a2408" stroke-width="0.900" stroke-dasharray="5.500 1.700" transform="rotate(-70 7 7)"/><circle cx="7" cy="7.100" r="1.900" fill="#9a5012" stroke="#4a2408" stroke-width="0.600"/><circle cx="7" cy="5.800" r="0.950" fill="#160a02"/></svg></div>
<div class="c s" style="left:449px;top:694px"><svg viewBox="0 0 14 14"><path d="M3 6.400l2.700 2.900 5.300-5.200" fill="none" stroke="#bccfb7" stroke-width="0.950"/></svg></div>
<div class="c s" style="left:467px;top:694px"><svg viewBox="0 0 14 14"><path d="M3 6.400l2.700 2.900 5.300-5.200" fill="none" stroke="#bccfb7" stroke-width="0.950"/></svg></div>
<div class="c s" style="left:485px;top:694px"><svg viewBox="0 0 14 14"><path d="M3 6.400l2.700 2.900 5.300-5.200" fill="none" stroke="#bccfb7" stroke-width="0.950"/></svg></div>
<div class="trl" style="top:729px"></div>
<div class="t" style="left:99.60px;top:713.65px;font-size:14px;color:#f4f4f5;letter-spacing:0.035px;">chain_t18</div>
<div class="c u" style="left:323px;top:714px"><svg viewBox="0 0 14 14"><circle cx="7" cy="7" r="4.600" fill="none" stroke="#4a2408" stroke-width="0.900" stroke-dasharray="5.500 1.700" transform="rotate(-70 7 7)"/><circle cx="7" cy="7.100" r="1.900" fill="#9a5012" stroke="#4a2408" stroke-width="0.600"/><circle cx="7" cy="5.800" r="0.950" fill="#160a02"/></svg></div>
<div class="c s" style="left:341px;top:714px"><svg viewBox="0 0 14 14"><path d="M3 6.400l2.700 2.900 5.300-5.200" fill="none" stroke="#bccfb7" stroke-width="0.950"/></svg></div>
<div class="c u" style="left:359px;top:714px"><svg viewBox="0 0 14 14"><circle cx="7" cy="7" r="4.600" fill="none" stroke="#4a2408" stroke-width="0.900" stroke-dasharray="5.500 1.700" transform="rotate(-70 7 7)"/><circle cx="7" cy="7.100" r="1.900" fill="#9a5012" stroke="#4a2408" stroke-width="0.600"/><circle cx="7" cy="5.800" r="0.950" fill="#160a02"/></svg></div>
<div class="c u" style="left:377px;top:714px"><svg viewBox="0 0 14 14"><circle cx="7" cy="7" r="4.600" fill="none" stroke="#4a2408" stroke-width="0.900" stroke-dasharray="5.500 1.700" transform="rotate(-70 7 7)"/><circle cx="7" cy="7.100" r="1.900" fill="#9a5012" stroke="#4a2408" stroke-width="0.600"/><circle cx="7" cy="5.800" r="0.950" fill="#160a02"/></svg></div>
<div class="c u" style="left:395px;top:714px"><svg viewBox="0 0 14 14"><circle cx="7" cy="7" r="4.600" fill="none" stroke="#4a2408" stroke-width="0.900" stroke-dasharray="5.500 1.700" transform="rotate(-70 7 7)"/><circle cx="7" cy="7.100" r="1.900" fill="#9a5012" stroke="#4a2408" stroke-width="0.600"/><circle cx="7" cy="5.800" r="0.950" fill="#160a02"/></svg></div>
<div class="c s" style="left:413px;top:714px"><svg viewBox="0 0 14 14"><path d="M3 6.400l2.700 2.900 5.300-5.200" fill="none" stroke="#bccfb7" stroke-width="0.950"/></svg></div>
<div class="c u" style="left:431px;top:714px"><svg viewBox="0 0 14 14"><circle cx="7" cy="7" r="4.600" fill="none" stroke="#4a2408" stroke-width="0.900" stroke-dasharray="5.500 1.700" transform="rotate(-70 7 7)"/><circle cx="7" cy="7.100" r="1.900" fill="#9a5012" stroke="#4a2408" stroke-width="0.600"/><circle cx="7" cy="5.800" r="0.950" fill="#160a02"/></svg></div>
<div class="c s" style="left:449px;top:714px"><svg viewBox="0 0 14 14"><path d="M3 6.400l2.700 2.900 5.300-5.200" fill="none" stroke="#bccfb7" stroke-width="0.950"/></svg></div>
<div class="c s" style="left:467px;top:714px"><svg viewBox="0 0 14 14"><path d="M3 6.400l2.700 2.900 5.300-5.200" fill="none" stroke="#bccfb7" stroke-width="0.950"/></svg></div>
<div class="c s" style="left:485px;top:714px"><svg viewBox="0 0 14 14"><path d="M3 6.400l2.700 2.900 5.300-5.200" fill="none" stroke="#bccfb7" stroke-width="0.950"/></svg></div>
<div class="trl" style="top:749px"></div>
<div class="t" style="left:99.60px;top:733.65px;font-size:14px;color:#f4f4f5;letter-spacing:0.035px;">chain_t19</div>
<div class="c u" style="left:323px;top:734px"><svg viewBox="0 0 14 14"><circle cx="7" cy="7" r="4.600" fill="none" stroke="#4a2408" stroke-width="0.900" stroke-dasharray="5.500 1.700" transform="rotate(-70 7 7)"/><circle cx="7" cy="7.100" r="1.900" fill="#9a5012" stroke="#4a2408" stroke-width="0.600"/><circle cx="7" cy="5.800" r="0.950" fill="#160a02"/></svg></div>
<div class="c s" style="left:341px;top:734px"><svg viewBox="0 0 14 14"><path d="M3 6.400l2.700 2.900 5.300-5.200" fill="none" stroke="#bccfb7" stroke-width="0.950"/></svg></div>
<div class="c u" style="left:359px;top:734px"><svg viewBox="0 0 14 14"><circle cx="7" cy="7" r="4.600" fill="none" stroke="#4a2408" stroke-width="0.900" stroke-dasharray="5.500 1.700" transform="rotate(-70 7 7)"/><circle cx="7" cy="7.100" r="1.900" fill="#9a5012" stroke="#4a2408" stroke-width="0.600"/><circle cx="7" cy="5.800" r="0.950" fill="#160a02"/></svg></div>
<div class="c u" style="left:377px;top:734px"><svg viewBox="0 0 14 14"><circle cx="7" cy="7" r="4.600" fill="none" stroke="#4a2408" stroke-width="0.900" stroke-dasharray="5.500 1.700" transform="rotate(-70 7 7)"/><circle cx="7" cy="7.100" r="1.900" fill="#9a5012" stroke="#4a2408" stroke-width="0.600"/><circle cx="7" cy="5.800" r="0.950" fill="#160a02"/></svg></div>
<div class="c u" style="left:395px;top:734px"><svg viewBox="0 0 14 14"><circle cx="7" cy="7" r="4.600" fill="none" stroke="#4a2408" stroke-width="0.900" stroke-dasharray="5.500 1.700" transform="rotate(-70 7 7)"/><circle cx="7" cy="7.100" r="1.900" fill="#9a5012" stroke="#4a2408" stroke-width="0.600"/><circle cx="7" cy="5.800" r="0.950" fill="#160a02"/></svg></div>
<div class="c s" style="left:413px;top:734px"><svg viewBox="0 0 14 14"><path d="M3 6.400l2.700 2.900 5.300-5.200" fill="none" stroke="#bccfb7" stroke-width="0.950"/></svg></div>
<div class="c u" style="left:431px;top:734px"><svg viewBox="0 0 14 14"><circle cx="7" cy="7" r="4.600" fill="none" stroke="#4a2408" stroke-width="0.900" stroke-dasharray="5.500 1.700" transform="rotate(-70 7 7)"/><circle cx="7" cy="7.100" r="1.900" fill="#9a5012" stroke="#4a2408" stroke-width="0.600"/><circle cx="7" cy="5.800" r="0.950" fill="#160a02"/></svg></div>
<div class="c s" style="left:449px;top:734px"><svg viewBox="0 0 14 14"><path d="M3 6.400l2.700 2.900 5.300-5.200" fill="none" stroke="#bccfb7" stroke-width="0.950"/></svg></div>
<div class="c s" style="left:467px;top:734px"><svg viewBox="0 0 14 14"><path d="M3 6.400l2.700 2.900 5.300-5.200" fill="none" stroke="#bccfb7" stroke-width="0.950"/></svg></div>
<div class="c s" style="left:485px;top:734px"><svg viewBox="0 0 14 14"><path d="M3 6.400l2.700 2.900 5.300-5.200" fill="none" stroke="#bccfb7" stroke-width="0.950"/></svg></div>
<div class="trl" style="top:769px"></div>
<div class="t" style="left:99.60px;top:753.65px;font-size:14px;color:#f4f4f5;letter-spacing:0.073px;">end_chain</div>
<div class="c u" style="left:323px;top:754px"><svg viewBox="0 0 14 14"><circle cx="7" cy="7" r="4.600" fill="none" stroke="#4a2408" stroke-width="0.900" stroke-dasharray="5.500 1.700" transform="rotate(-70 7 7)"/><circle cx="7" cy="7.100" r="1.900" fill="#9a5012" stroke="#4a2408" stroke-width="0.600"/><circle cx="7" cy="5.800" r="0.950" fill="#160a02"/></svg></div>
<div class="c s" style="left:341px;top:754px"><svg viewBox="0 0 14 14"><path d="M3 6.400l2.700 2.900 5.300-5.200" fill="none" stroke="#bccfb7" stroke-width="0.950"/></svg></div>
<div class="c u" style="left:359px;top:754px"><svg viewBox="0 0 14 14"><circle cx="7" cy="7" r="4.600" fill="none" stroke="#4a2408" stroke-width="0.900" stroke-dasharray="5.500 1.700" transform="rotate(-70 7 7)"/><circle cx="7" cy="7.100" r="1.900" fill="#9a5012" stroke="#4a2408" stroke-width="0.600"/><circle cx="7" cy="5.800" r="0.950" fill="#160a02"/></svg></div>
<div class="c u" style="left:377px;top:754px"><svg viewBox="0 0 14 14"><circle cx="7" cy="7" r="4.600" fill="none" stroke="#4a2408" stroke-width="0.900" stroke-dasharray="5.500 1.700" transform="rotate(-70 7 7)"/><circle cx="7" cy="7.100" r="1.900" fill="#9a5012" stroke="#4a2408" stroke-width="0.600"/><circle cx="7" cy="5.800" r="0.950" fill="#160a02"/></svg></div>
<div class="c u" style="left:395px;top:754px"><svg viewBox="0 0 14 14"><circle cx="7" cy="7" r="4.600" fill="none" stroke="#4a2408" stroke-width="0.900" stroke-dasharray="5.500 1.700" transform="rotate(-70 7 7)"/><circle cx="7" cy="7.100" r="1.900" fill="#9a5012" stroke="#4a2408" stroke-width="0.600"/><circle cx="7" cy="5.800" r="0.950" fill="#160a02"/></svg></div>
<div class="c s" style="left:413px;top:754px"><svg viewBox="0 0 14 14"><path d="M3 6.400l2.700 2.900 5.300-5.200" fill="none" stroke="#bccfb7" stroke-width="0.950"/></svg></div>
<div class="c u" style="left:431px;top:754px"><svg viewBox="0 0 14 14"><circle cx="7" cy="7" r="4.600" fill="none" stroke="#4a2408" stroke-width="0.900" stroke-dasharray="5.500 1.700" transform="rotate(-70 7 7)"/><circle cx="7" cy="7.100" r="1.900" fill="#9a5012" stroke="#4a2408" stroke-width="0.600"/><circle cx="7" cy="5.800" r="0.950" fill="#160a02"/></svg></div>
<div class="c s" style="left:449px;top:754px"><svg viewBox="0 0 14 14"><path d="M3 6.400l2.700 2.900 5.300-5.200" fill="none" stroke="#bccfb7" stroke-width="0.950"/></svg></div>
<div class="c s" style="left:467px;top:754px"><svg viewBox="0 0 14 14"><path d="M3 6.400l2.700 2.900 5.300-5.200" fill="none" stroke="#bccfb7" stroke-width="0.950"/></svg></div>
<div class="c s" style="left:485px;top:754px"><svg viewBox="0 0 14 14"><path d="M3 6.400l2.700 2.900 5.300-5.200" fill="none" stroke="#bccfb7" stroke-width="0.950"/></svg></div>
<div class="abs" style="left:509px;top:60px;width:2px;height:1176px;background:#70707a"></div>
<div class="abs" style="left:1394px;top:12px;width:200px;height:40px;background:#18181b;border-radius:4px"></div>
<svg class="abs" style="left:1412px;top:23px;width:17px;height:17px;fill:none;stroke:#f4f4f5;stroke-width:1.800;stroke-linecap:round" viewBox="0 0 17 17"><circle cx="6.700" cy="6.700" r="4.500"/><path d="M10.300 10.300l4.600 4.600"/></svg>
<div class="t" style="left:1438.20px;top:25.35px;font-size:14px;color:#f4f4f5;letter-spacing:0.197px;">Search Dags</div>
<div class="box" style="left:1530px;top:23px;width:32px;height:18px;border-color:#2a2a2e"></div>
<svg class="abs" style="left:1534.500px;top:27px;width:8px;height:8px;fill:none;stroke:#e4e4e7;stroke-width:0.900" viewBox="0 0 8 8"><path d="M2.700 2.700h2.600v2.600H2.700zM2.700 2.700V1.700a1.100 1.100 0 1 0-1.100 1.100h1.100M5.300 2.700h1.100a1.100 1.100 0 1 0-1.100-1.100v1.100M5.300 5.300v1.100a1.100 1.100 0 1 0 1.100-1.100H5.300M2.700 5.300H1.600a1.100 1.100 0 1 0 1.100 1.100V5.300"/></svg>
<div class="t" style="left:1542.80px;top:25.89px;font-size:11px;color:#e4e4e7;letter-spacing:-0.261px;">+K</div>
<div class="abs" style="left:1598px;top:12px;width:109px;height:40px;background:#3b55e0;border-radius:4px"></div>
<svg class="abs" style="left:1617px;top:23px;width:16px;height:18px;fill:none;stroke:#fff;stroke-width:1.500;stroke-linejoin:round" viewBox="0 0 16 18"><path d="M2 1.500l12.200 7.500L2 16.500z"/></svg>
<div class="t" style="left:1642.90px;top:25.15px;font-size:14px;color:#fff;letter-spacing:0.495px;">Trigger</div>
<div class="box" style="left:519px;top:60px;width:1188px;height:132px;border-radius:8px"></div>
<svg class="abs" style="left:529.600px;top:81.400px;width:19px;height:19px;fill:none;stroke:#f4f4f5;stroke-width:1.500;stroke-linecap:round;stroke-linejoin:round" viewBox="0 0 19 19"><circle cx="15" cy="4.300" r="2.800"/><circle cx="12.300" cy="15.200" r="2.800"/><path d="M1.300 4.300H12M4.500 4.300v8.400a2.500 2.500 0 0 0 2.500 2.500h2.300"/></svg>
<div class="t" style="left:556.77px;top:79.96px;font-size:18px;color:#fafafa;letter-spacing:0.371px;-webkit-text-stroke:0.55px #fafafa;">toy_chain_linear_vs_chain_complex</div>
<div class="abs" style="left:867px;top:82px;width:32px;height:16px;border-radius:8px;background:#3b55e0"></div>
<div class="abs" style="left:884px;top:83px;width:14px;height:14px;border-radius:7px;background:#fff"></div>
<div class="box" style="left:1552px;top:69px;width:146px;height:40px"></div>
<svg class="abs" style="left:1570px;top:79px;width:18px;height:19px;fill:none;stroke:#f4f4f5;stroke-width:1.400;stroke-linecap:round;stroke-linejoin:round" viewBox="0 0 18 19"><path d="M7.800 17.200H2.400V1.800h12.400v7.200"/><path d="M4.800 5.700h7.600M4.800 8.500h3.800" stroke-width="1.200"/><circle cx="12.400" cy="14.600" r="3.200" stroke-width="1.200" stroke-dasharray="17.500 2.600" transform="rotate(-40 12.400 14.600)"/></svg>
<div class="t" style="left:1597.40px;top:82.45px;font-size:14px;color:#f4f4f5;letter-spacing:0.051px;">Reparse Dag</div>
<div class="t" style="left:528.80px;top:125.74px;font-size:12px;color:#a1a1aa;letter-spacing:0.466px;-webkit-text-stroke:0.4px #a1a1aa;">Schedule</div>
<div class="t" style="left:662.10px;top:125.74px;font-size:12px;color:#a1a1aa;letter-spacing:0.429px;-webkit-text-stroke:0.4px #a1a1aa;">Latest Run</div>
<div class="t" style="left:923.20px;top:125.74px;font-size:12px;color:#a1a1aa;letter-spacing:0.368px;-webkit-text-stroke:0.4px #a1a1aa;">Next Run</div>
<div class="t" style="left:1055.40px;top:125.74px;font-size:12px;color:#a1a1aa;letter-spacing:0.564px;-webkit-text-stroke:0.4px #a1a1aa;">Owner</div>
<div class="t" style="left:1182.40px;top:125.74px;font-size:12px;color:#a1a1aa;letter-spacing:0.451px;-webkit-text-stroke:0.4px #a1a1aa;">Tags</div>
<div class="t" style="left:1587.20px;top:125.74px;font-size:12px;color:#a1a1aa;letter-spacing:0.482px;-webkit-text-stroke:0.4px #a1a1aa;">Latest Dag Version</div>
<div class="t" style="left:662.30px;top:155.96px;font-size:16px;color:#f4f4f5;letter-spacing:-0.033px;">2025-04-21, 13:11:17</div>
<div class="abs" style="left:822px;top:151px;width:22px;height:22px;border-radius:11px;background:#2b7518"></div>
<svg class="abs" style="left:826px;top:155px;width:14px;height:14px;fill:none;stroke:#fff;stroke-width:1.300;stroke-linecap:round;stroke-linejoin:round" viewBox="0 0 14 14"><path d="M2.800 7.300l2.800 2.700 5.600-5.800"/></svg>
<div class="t" style="left:1055.20px;top:155.96px;font-size:16px;color:#f4f4f5;letter-spacing:0.261px;">airflow</div>
<svg class="abs" style="left:1181px;top:153px;width:17px;height:17px;fill:none;stroke:#f4f4f5;stroke-width:1.400;stroke-linejoin:round" viewBox="0 0 17 17"><path d="M2.400 2.500h6l6.700 6.700-6 6-6.700-6.700z"/><circle cx="5.500" cy="5.600" r="0.450" fill="#f4f4f5"/></svg>
<div class="t" style="left:1202.00px;top:155.15px;font-size:14px;color:#f4f4f5;letter-spacing:0.275px;">chain(), dependency_functions, core, , +2 more</div>
<div class="t" style="left:1587.00px;top:155.96px;font-size:16px;color:#f4f4f5;letter-spacing:-1.499px;">v1</div>
<div class="abs" style="left:519px;top:236px;width:1188px;height:1px;background:#27272a"></div>
<div class="t" style="left:527.50px;top:209.76px;font-size:16px;color:#a1a1aa;font-weight:bold;letter-spacing:0.092px;">Overview</div>
<div class="t" style="left:632.20px;top:209.76px;font-size:16px;color:#fafafa;font-weight:bold;letter-spacing:-0.667px;">Runs</div>
<div class="t" style="left:703.40px;top:209.76px;font-size:16px;color:#a1a1aa;font-weight:bold;letter-spacing:-0.220px;">Tasks</div>
<div class="t" style="left:779.50px;top:209.76px;font-size:16px;color:#a1a1aa;font-weight:bold;letter-spacing:-0.254px;">Events</div>
<div class="t" style="left:863.80px;top:209.76px;font-size:16px;color:#a1a1aa;font-weight:bold;letter-spacing:-0.134px;">Code</div>
<div class="t" style="left:936.20px;top:209.76px;font-size:16px;color:#a1a1aa;font-weight:bold;letter-spacing:0.072px;">Details</div>
<div class="abs" style="left:616px;top:235px;width:71px;height:3px;background:#6a9ff7"></div>
<div class="box" style="left:519px;top:245px;width:200px;height:40px"></div>
<div class="box" style="left:719px;top:245px;width:200px;height:40px"></div>
<div class="t" style="left:532.40px;top:258.05px;font-size:14px;color:#f4f4f5;letter-spacing:0.118px;">All States</div>
<div class="t" style="left:732.40px;top:258.05px;font-size:14px;color:#f4f4f5;letter-spacing:0.007px;">All Run Types</div>
<svg class="chev" style="left:693px;top:260.500px;stroke:#a1a1aa" viewBox="0 0 12 8"><path d="M1.500 1.500L6 6l4.500-4.500"/></svg>
<svg class="chev" style="left:893px;top:260.500px;stroke:#a1a1aa" viewBox="0 0 12 8"><path d="M1.500 1.500L6 6l4.500-4.500"/></svg>
<div class="t" style="left:548.50px;top:320.25px;font-size:14px;color:#f4f4f5;letter-spacing:0.329px;">Run After</div>
<svg class="sort" style="left:622.1px" viewBox="0 0 11 14" preserveAspectRatio="none"><path d="M5.500 0L11 6.200H0z" fill="#ececee"/><path d="M5.500 14L11 7.800H0z" fill="#ececee"/></svg>
<div class="t" style="left:756.70px;top:320.25px;font-size:14px;color:#f4f4f5;letter-spacing:0.277px;">State</div>
<svg class="sort" style="left:803px" viewBox="0 0 11 14" preserveAspectRatio="none"><path d="M5.500 0L11 6.200H0z" fill="#ececee"/><path d="M5.500 14L11 7.800H0z" fill="#ececee"/></svg>
<div class="t" style="left:876.40px;top:320.25px;font-size:14px;color:#f4f4f5;letter-spacing:0.132px;">Run Type</div>
<div class="t" style="left:997.70px;top:320.25px;font-size:14px;color:#f4f4f5;letter-spacing:0.364px;">Start Date</div>
<svg class="sort" style="left:1077px" viewBox="0 0 11 14" preserveAspectRatio="none"><path d="M5.500 0L11 6.200H0z" fill="#ececee"/><path d="M5.500 14L11 7.800H0z" fill="#ececee"/></svg>
<div class="t" style="left:1194.50px;top:320.25px;font-size:14px;color:#f4f4f5;letter-spacing:0.090px;">End Date</div>
<svg class="sort" style="left:1266.2px" viewBox="0 0 11 14" preserveAspectRatio="none"><path d="M5.500 0L11 6.200H0z" fill="#ececee"/><path d="M5.500 14L11 7.800H0z" fill="#ececee"/></svg>
<div class="t" style="left:1374.30px;top:320.25px;font-size:14px;color:#f4f4f5;letter-spacing:0.469px;">Duration</div>
<div class="t" style="left:1465.50px;top:320.25px;font-size:14px;color:#f4f4f5;letter-spacing:0.316px;">Dag Version(s)</div>
<svg class="abs" style="left:1619px;top:322px;width:16px;height:10px;fill:none;stroke:#f4f4f5;stroke-width:1.600" viewBox="0 0 16 10"><path d="M0 0.800h16M3 5h10M6 9.200h4"/></svg>
<div class="abs" style="left:519px;top:363px;width:1180px;height:1px;background:#27272a"></div>
<div class="tr o" style="top:364px">
<div class="t" style="left:12.50px;top:23.15px;font-size:14px;color:#9cc0f9;font-weight:bold;letter-spacing:1.307px;">2025-04-21, 13:11:17</div>
<div class="bd s"><svg viewBox="0 0 11 10"><path d="M0.800 5.400l3 3L10.200 1.500"/></svg></div>
<div class="t" style="left:247.00px;top:23.15px;font-size:14px;color:#fff;letter-spacing:0.321px;">success</div>
<svg class="abs" style="left:361px;top:26px;width:7px;height:9px" viewBox="0 0 7 9"><path d="M0.300 0.500l6.400 4-6.400 4z" fill="#f4f4f5"/></svg>
<div class="t" style="left:379.50px;top:23.15px;font-size:14px;color:#f4f4f5;letter-spacing:-0.084px;">manual</div>
<div class="t" style="left:462.25px;top:23.15px;font-size:14px;color:#f4f4f5;letter-spacing:0.866px;">2025-04-21, 13:11:19</div>
<div class="t" style="left:658.50px;top:23.15px;font-size:14px;color:#f4f4f5;letter-spacing:0.866px;">2025-04-21, 13:11:27</div>
<div class="t" style="left:855.20px;top:23.15px;font-size:14px;color:#f4f4f5;letter-spacing:0.584px;">8.20</div>
<div class="t" style="left:946.30px;top:23.15px;font-size:14px;color:#f4f4f5;letter-spacing:-0.086px;">v1</div>
<svg class="abs" style="left:1108px;top:24px;width:12px;height:12px;fill:none;stroke:#9cc0f9;stroke-width:1.600" viewBox="0 0 12 12"><path d="M9.520 8.770A4.300 4.300 0 1 1 8.760 3"/><path d="M10.800 0.700v4H6.900z" fill="#9cc0f9" stroke="none"/></svg>
<svg class="abs" style="left:1146.800px;top:28.200px;width:6.600px;height:3.800px" viewBox="0 0 7 4"><path d="M0 0h7L3.500 4z" fill="#9cc0f9"/></svg>
</div>
<div class="tr" style="top:425px">
<div class="t" style="left:12.50px;top:23.15px;font-size:14px;color:#9cc0f9;font-weight:bold;letter-spacing:1.307px;">2025-04-21, 13:11:15</div>
<div class="bd s"><svg viewBox="0 0 11 10"><path d="M0.800 5.400l3 3L10.200 1.500"/></svg></div>
<div class="t" style="left:247.00px;top:23.15px;font-size:14px;color:#fff;letter-spacing:0.321px;">success</div>
<svg class="abs" style="left:361px;top:26px;width:7px;height:9px" viewBox="0 0 7 9"><path d="M0.300 0.500l6.400 4-6.400 4z" fill="#f4f4f5"/></svg>
<div class="t" style="left:379.50px;top:23.15px;font-size:14px;color:#f4f4f5;letter-spacing:-0.084px;">manual</div>
<div class="t" style="left:462.25px;top:23.15px;font-size:14px;color:#f4f4f5;letter-spacing:0.866px;">2025-04-21, 13:11:16</div>
<div class="t" style="left:658.50px;top:23.15px;font-size:14px;color:#f4f4f5;letter-spacing:0.866px;">2025-04-21, 13:11:24</div>
<div class="t" style="left:855.20px;top:23.15px;font-size:14px;color:#f4f4f5;letter-spacing:0.584px;">8.33</div>
<div class="t" style="left:946.30px;top:23.15px;font-size:14px;color:#f4f4f5;letter-spacing:-0.086px;">v1</div>
<svg class="abs" style="left:1108px;top:24px;width:12px;height:12px;fill:none;stroke:#9cc0f9;stroke-width:1.600" viewBox="0 0 12 12"><path d="M9.520 8.770A4.300 4.300 0 1 1 8.760 3"/><path d="M10.800 0.700v4H6.900z" fill="#9cc0f9" stroke="none"/></svg>
<svg class="abs" style="left:1146.800px;top:28.200px;width:6.600px;height:3.800px" viewBox="0 0 7 4"><path d="M0 0h7L3.500 4z" fill="#9cc0f9"/></svg>
</div>
<div class="tr o" style="top:486px">
<div class="t" style="left:12.50px;top:23.15px;font-size:14px;color:#9cc0f9;font-weight:bold;letter-spacing:1.307px;">2025-04-21, 13:11:12</div>
<div class="bd s"><svg viewBox="0 0 11 10"><path d="M0.800 5.400l3 3L10.200 1.500"/></svg></div>
<div class="t" style="left:247.00px;top:23.15px;font-size:14px;color:#fff;letter-spacing:0.321px;">success</div>
<svg class="abs" style="left:361px;top:26px;width:7px;height:9px" viewBox="0 0 7 9"><path d="M0.300 0.500l6.400 4-6.400 4z" fill="#f4f4f5"/></svg>
<div class="t" style="left:379.50px;top:23.15px;font-size:14px;color:#f4f4f5;letter-spacing:-0.084px;">manual</div>
<div class="t" style="left:462.25px;top:23.15px;font-size:14px;color:#f4f4f5;letter-spacing:0.866px;">2025-04-21, 13:11:14</div>
<div class="t" style="left:658.50px;top:23.15px;font-size:14px;color:#f4f4f5;letter-spacing:0.866px;">2025-04-21, 13:11:22</div>
<div class="t" style="left:855.20px;top:23.15px;font-size:14px;color:#f4f4f5;letter-spacing:0.584px;">7.92</div>
<div class="t" style="left:946.30px;top:23.15px;font-size:14px;color:#f4f4f5;letter-spacing:-0.086px;">v1</div>
<svg class="abs" style="left:1108px;top:24px;width:12px;height:12px;fill:none;stroke:#9cc0f9;stroke-width:1.600" viewBox="0 0 12 12"><path d="M9.520 8.770A4.300 4.300 0 1 1 8.760 3"/><path d="M10.800 0.700v4H6.900z" fill="#9cc0f9" stroke="none"/></svg>
<svg class="abs" style="left:1146.800px;top:28.200px;width:6.600px;height:3.800px" viewBox="0 0 7 4"><path d="M0 0h7L3.500 4z" fill="#9cc0f9"/></svg>
</div>
<div class="tr" style="top:547px">
<div class="t" style="left:12.50px;top:23.15px;font-size:14px;color:#9cc0f9;font-weight:bold;letter-spacing:1.307px;">2025-04-21, 13:11:09</div>
<div class="bd f"><svg viewBox="0 0 11 10"><path d="M1.500 1l8 8M9.500 1l-8 8"/></svg></div>
<div class="t" style="left:247.00px;top:23.15px;font-size:14px;color:#fff;letter-spacing:0.506px;">failed</div>
<svg class="abs" style="left:361px;top:26px;width:7px;height:9px" viewBox="0 0 7 9"><path d="M0.300 0.500l6.400 4-6.400 4z" fill="#f4f4f5"/></svg>
<div class="t" style="left:379.50px;top:23.15px;font-size:14px;color:#f4f4f5;letter-spacing:-0.084px;">manual</div>
<div class="t" style="left:462.25px;top:23.15px;font-size:14px;color:#f4f4f5;letter-spacing:0.866px;">2025-04-21, 13:11:11</div>
<div class="t" style="left:658.50px;top:23.15px;font-size:14px;color:#f4f4f5;letter-spacing:0.866px;">2025-04-21, 13:11:17</div>
<div class="t" style="left:855.20px;top:23.15px;font-size:14px;color:#f4f4f5;letter-spacing:0.584px;">6.38</div>
<div class="t" style="left:946.30px;top:23.15px;font-size:14px;color:#f4f4f5;letter-spacing:-0.086px;">v1</div>
<svg class="abs" style="left:1108px;top:24px;width:12px;height:12px;fill:none;stroke:#9cc0f9;stroke-width:1.600" viewBox="0 0 12 12"><path d="M9.520 8.770A4.300 4.300 0 1 1 8.760 3"/><path d="M10.800 0.700v4H6.900z" fill="#9cc0f9" stroke="none"/></svg>
<svg class="abs" style="left:1146.800px;top:28.200px;width:6.600px;height:3.800px" viewBox="0 0 7 4"><path d="M0 0h7L3.500 4z" fill="#9cc0f9"/></svg>
</div>
<div class="tr o" style="top:608px">
<div class="t" style="left:12.50px;top:23.15px;font-size:14px;color:#9cc0f9;font-weight:bold;letter-spacing:1.307px;">2025-04-21, 13:10:59</div>
<div class="bd s"><svg viewBox="0 0 11 10"><path d="M0.800 5.400l3 3L10.200 1.500"/></svg></div>
<div class="t" style="left:247.00px;top:23.15px;font-size:14px;color:#fff;letter-spacing:0.321px;">success</div>
<svg class="abs" style="left:361px;top:26px;width:7px;height:9px" viewBox="0 0 7 9"><path d="M0.300 0.500l6.400 4-6.400 4z" fill="#f4f4f5"/></svg>
<div class="t" style="left:379.50px;top:23.15px;font-size:14px;color:#f4f4f5;letter-spacing:-0.084px;">manual</div>
<div class="t" style="left:462.25px;top:23.15px;font-size:14px;color:#f4f4f5;letter-spacing:0.866px;">2025-04-21, 13:11:01</div>
<div class="t" style="left:658.50px;top:23.15px;font-size:14px;color:#f4f4f5;letter-spacing:0.866px;">2025-04-21, 13:11:09</div>
<div class="t" style="left:855.20px;top:23.15px;font-size:14px;color:#f4f4f5;letter-spacing:0.584px;">7.32</div>
<div class="t" style="left:946.30px;top:23.15px;font-size:14px;color:#f4f4f5;letter-spacing:-0.086px;">v1</div>
<svg class="abs" style="left:1108px;top:24px;width:12px;height:12px;fill:none;stroke:#9cc0f9;stroke-width:1.600" viewBox="0 0 12 12"><path d="M9.520 8.770A4.300 4.300 0 1 1 8.760 3"/><path d="M10.800 0.700v4H6.900z" fill="#9cc0f9" stroke="none"/></svg>
<svg class="abs" style="left:1146.800px;top:28.200px;width:6.600px;height:3.800px" viewBox="0 0 7 4"><path d="M0 0h7L3.500 4z" fill="#9cc0f9"/></svg>
</div>
<div class="tr" style="top:669px">
<div class="t" style="left:12.50px;top:23.15px;font-size:14px;color:#9cc0f9;font-weight:bold;letter-spacing:1.307px;">2025-04-21, 13:10:57</div>
<div class="bd f"><svg viewBox="0 0 11 10"><path d="M1.500 1l8 8M9.500 1l-8 8"/></svg></div>
<div class="t" style="left:247.00px;top:23.15px;font-size:14px;color:#fff;letter-spacing:0.506px;">failed</div>
<svg class="abs" style="left:361px;top:26px;width:7px;height:9px" viewBox="0 0 7 9"><path d="M0.300 0.500l6.400 4-6.400 4z" fill="#f4f4f5"/></svg>
<div class="t" style="left:379.50px;top:23.15px;font-size:14px;color:#f4f4f5;letter-spacing:-0.084px;">manual</div>
<div class="t" style="left:462.25px;top:23.15px;font-size:14px;color:#f4f4f5;letter-spacing:0.866px;">2025-04-21, 13:10:58</div>
<div class="t" style="left:658.50px;top:23.15px;font-size:14px;color:#f4f4f5;letter-spacing:0.866px;">2025-04-21, 13:11:06</div>
<div class="t" style="left:855.20px;top:23.15px;font-size:14px;color:#f4f4f5;letter-spacing:0.584px;">7.53</div>
<div class="t" style="left:946.30px;top:23.15px;font-size:14px;color:#f4f4f5;letter-spacing:-0.086px;">v1</div>
<svg class="abs" style="left:1108px;top:24px;width:12px;height:12px;fill:none;stroke:#9cc0f9;stroke-width:1.600" viewBox="0 0 12 12"><path d="M9.520 8.770A4.300 4.300 0 1 1 8.760 3"/><path d="M10.800 0.700v4H6.900z" fill="#9cc0f9" stroke="none"/></svg>
<svg class="abs" style="left:1146.800px;top:28.200px;width:6.600px;height:3.800px" viewBox="0 0 7 4"><path d="M0 0h7L3.500 4z" fill="#9cc0f9"/></svg>
</div>
<div class="tr o" style="top:730px">
<div class="t" style="left:12.50px;top:23.15px;font-size:14px;color:#9cc0f9;font-weight:bold;letter-spacing:1.307px;">2025-04-21, 13:10:56</div>
<div class="bd f"><svg viewBox="0 0 11 10"><path d="M1.500 1l8 8M9.500 1l-8 8"/></svg></div>
<div class="t" style="left:247.00px;top:23.15px;font-size:14px;color:#fff;letter-spacing:0.506px;">failed</div>
<svg class="abs" style="left:361px;top:26px;width:7px;height:9px" viewBox="0 0 7 9"><path d="M0.300 0.500l6.400 4-6.400 4z" fill="#f4f4f5"/></svg>
<div class="t" style="left:379.50px;top:23.15px;font-size:14px;color:#f4f4f5;letter-spacing:-0.084px;">manual</div>
<div class="t" style="left:462.25px;top:23.15px;font-size:14px;color:#f4f4f5;letter-spacing:0.866px;">2025-04-21, 13:10:57</div>
<div class="t" style="left:658.50px;top:23.15px;font-size:14px;color:#f4f4f5;letter-spacing:0.866px;">2025-04-21, 13:11:03</div>
<div class="t" style="left:855.20px;top:23.15px;font-size:14px;color:#f4f4f5;letter-spacing:0.584px;">5.81</div>
<div class="t" style="left:946.30px;top:23.15px;font-size:14px;color:#f4f4f5;letter-spacing:-0.086px;">v1</div>
<svg class="abs" style="left:1108px;top:24px;width:12px;height:12px;fill:none;stroke:#9cc0f9;stroke-width:1.600" viewBox="0 0 12 12"><path d="M9.520 8.770A4.300 4.300 0 1 1 8.760 3"/><path d="M10.800 0.700v4H6.900z" fill="#9cc0f9" stroke="none"/></svg>
<svg class="abs" style="left:1146.800px;top:28.200px;width:6.600px;height:3.800px" viewBox="0 0 7 4"><path d="M0 0h7L3.500 4z" fill="#9cc0f9"/></svg>
</div>
<div class="tr" style="top:791px">
<div class="t" style="left:12.50px;top:23.15px;font-size:14px;color:#9cc0f9;font-weight:bold;letter-spacing:1.307px;">2025-04-21, 13:10:53</div>
<div class="bd f"><svg viewBox="0 0 11 10"><path d="M1.500 1l8 8M9.500 1l-8 8"/></svg></div>
<div class="t" style="left:247.00px;top:23.15px;font-size:14px;color:#fff;letter-spacing:0.506px;">failed</div>
<svg class="abs" style="left:361px;top:26px;width:7px;height:9px" viewBox="0 0 7 9"><path d="M0.300 0.500l6.400 4-6.400 4z" fill="#f4f4f5"/></svg>
<div class="t" style="left:379.50px;top:23.15px;font-size:14px;color:#f4f4f5;letter-spacing:-0.084px;">manual</div>
<div class="t" style="left:462.25px;top:23.15px;font-size:14px;color:#f4f4f5;letter-spacing:0.866px;">2025-04-21, 13:10:54</div>
<div class="t" style="left:658.50px;top:23.15px;font-size:14px;color:#f4f4f5;letter-spacing:0.866px;">2025-04-21, 13:11:01</div>
<div class="t" style="left:855.20px;top:23.15px;font-size:14px;color:#f4f4f5;letter-spacing:0.584px;">7.31</div>
<div class="t" style="left:946.30px;top:23.15px;font-size:14px;color:#f4f4f5;letter-spacing:-0.086px;">v1</div>
<svg class="abs" style="left:1108px;top:24px;width:12px;height:12px;fill:none;stroke:#9cc0f9;stroke-width:1.600" viewBox="0 0 12 12"><path d="M9.520 8.770A4.300 4.300 0 1 1 8.760 3"/><path d="M10.800 0.700v4H6.900z" fill="#9cc0f9" stroke="none"/></svg>
<svg class="abs" style="left:1146.800px;top:28.200px;width:6.600px;height:3.800px" viewBox="0 0 7 4"><path d="M0 0h7L3.500 4z" fill="#9cc0f9"/></svg>
</div>
<div class="tr o" style="top:852px">
<div class="t" style="left:12.50px;top:23.15px;font-size:14px;color:#9cc0f9;font-weight:bold;letter-spacing:1.307px;">2025-04-21, 13:10:52</div>
<div class="bd s"><svg viewBox="0 0 11 10"><path d="M0.800 5.400l3 3L10.200 1.500"/></svg></div>
<div class="t" style="left:247.00px;top:23.15px;font-size:14px;color:#fff;letter-spacing:0.321px;">success</div>
<svg class="abs" style="left:361px;top:26px;width:7px;height:9px" viewBox="0 0 7 9"><path d="M0.300 0.500l6.400 4-6.400 4z" fill="#f4f4f5"/></svg>
<div class="t" style="left:379.50px;top:23.15px;font-size:14px;color:#f4f4f5;letter-spacing:-0.084px;">manual</div>
<div class="t" style="left:462.25px;top:23.15px;font-size:14px;color:#f4f4f5;letter-spacing:0.866px;">2025-04-21, 13:10:53</div>
<div class="t" style="left:658.50px;top:23.15px;font-size:14px;color:#f4f4f5;letter-spacing:0.866px;">2025-04-21, 13:11:03</div>
<div class="t" style="left:855.20px;top:23.15px;font-size:14px;color:#f4f4f5;letter-spacing:0.584px;">9.81</div>
<div class="t" style="left:946.30px;top:23.15px;font-size:14px;color:#f4f4f5;letter-spacing:-0.086px;">v1</div>
<svg class="abs" style="left:1108px;top:24px;width:12px;height:12px;fill:none;stroke:#9cc0f9;stroke-width:1.600" viewBox="0 0 12 12"><path d="M9.520 8.770A4.300 4.300 0 1 1 8.760 3"/><path d="M10.800 0.700v4H6.900z" fill="#9cc0f9" stroke="none"/></svg>
<svg class="abs" style="left:1146.800px;top:28.200px;width:6.600px;height:3.800px" viewBox="0 0 7 4"><path d="M0 0h7L3.500 4z" fill="#9cc0f9"/></svg>
</div>
<div class="tr" style="top:913px">
<div class="t" style="left:12.50px;top:23.15px;font-size:14px;color:#9cc0f9;font-weight:bold;letter-spacing:1.307px;">2025-04-21, 13:10:49</div>
<div class="bd f"><svg viewBox="0 0 11 10"><path d="M1.500 1l8 8M9.500 1l-8 8"/></svg></div>
<div class="t" style="left:247.00px;top:23.15px;font-size:14px;color:#fff;letter-spacing:0.506px;">failed</div>
<svg class="abs" style="left:361px;top:26px;width:7px;height:9px" viewBox="0 0 7 9"><path d="M0.300 0.500l6.400 4-6.400 4z" fill="#f4f4f5"/></svg>
<div class="t" style="left:379.50px;top:23.15px;font-size:14px;color:#f4f4f5;letter-spacing:-0.084px;">manual</div>
<div class="t" style="left:462.25px;top:23.15px;font-size:14px;color:#f4f4f5;letter-spacing:0.866px;">2025-04-21, 13:10:52</div>
<div class="t" style="left:658.50px;top:23.15px;font-size:14px;color:#f4f4f5;letter-spacing:0.866px;">2025-04-21, 13:10:58</div>
<div class="t" style="left:855.20px;top:23.15px;font-size:14px;color:#f4f4f5;letter-spacing:0.584px;">6.66</div>
<div class="t" style="left:946.30px;top:23.15px;font-size:14px;color:#f4f4f5;letter-spacing:-0.086px;">v1</div>
<svg class="abs" style="left:1108px;top:24px;width:12px;height:12px;fill:none;stroke:#9cc0f9;stroke-width:1.600" viewBox="0 0 12 12"><path d="M9.520 8.770A4.300 4.300 0 1 1 8.760 3"/><path d="M10.800 0.700v4H6.900z" fill="#9cc0f9" stroke="none"/></svg>
<svg class="abs" style="left:1146.800px;top:28.200px;width:6.600px;height:3.800px" viewBox="0 0 7 4"><path d="M0 0h7L3.500 4z" fill="#9cc0f9"/></svg>
</div>
<div class="tr o" style="top:974px">
<div class="t" style="left:12.50px;top:23.15px;font-size:14px;color:#9cc0f9;font-weight:bold;letter-spacing:1.307px;">2025-04-21, 13:10:47</div>
<div class="bd f"><svg viewBox="0 0 11 10"><path d="M1.500 1l8 8M9.500 1l-8 8"/></svg></div>
<div class="t" style="left:247.00px;top:23.15px;font-size:14px;color:#fff;letter-spacing:0.506px;">failed</div>
<svg class="abs" style="left:361px;top:26px;width:7px;height:9px" viewBox="0 0 7 9"><path d="M0.300 0.500l6.400 4-6.400 4z" fill="#f4f4f5"/></svg>
<div class="t" style="left:379.50px;top:23.15px;font-size:14px;color:#f4f4f5;letter-spacing:-0.084px;">manual</div>
<div class="t" style="left:462.25px;top:23.15px;font-size:14px;color:#f4f4f5;letter-spacing:0.866px;">2025-04-21, 13:10:48</div>
<div class="t" style="left:658.50px;top:23.15px;font-size:14px;color:#f4f4f5;letter-spacing:0.866px;">2025-04-21, 13:10:55</div>
<div class="t" style="left:855.20px;top:23.15px;font-size:14px;color:#f4f4f5;letter-spacing:0.584px;">6.97</div>
<div class="t" style="left:946.30px;top:23.15px;font-size:14px;color:#f4f4f5;letter-spacing:-0.086px;">v1</div>
<svg class="abs" style="left:1108px;top:24px;width:12px;height:12px;fill:none;stroke:#9cc0f9;stroke-width:1.600" viewBox="0 0 12 12"><path d="M9.520 8.770A4.300 4.300 0 1 1 8.760 3"/><path d="M10.800 0.700v4H6.900z" fill="#9cc0f9" stroke="none"/></svg>
<svg class="abs" style="left:1146.800px;top:28.200px;width:6.600px;height:3.800px" viewBox="0 0 7 4"><path d="M0 0h7L3.500 4z" fill="#9cc0f9"/></svg>
</div>
<div class="tr" style="top:1035px">
<div class="t" style="left:12.50px;top:23.15px;font-size:14px;color:#9cc0f9;font-weight:bold;letter-spacing:1.307px;">2025-04-21, 13:10:45</div>
<div class="bd f"><svg viewBox="0 0 11 10"><path d="M1.500 1l8 8M9.500 1l-8 8"/></svg></div>
<div class="t" style="left:247.00px;top:23.15px;font-size:14px;color:#fff;letter-spacing:0.506px;">failed</div>
<svg class="abs" style="left:361px;top:26px;width:7px;height:9px" viewBox="0 0 7 9"><path d="M0.300 0.500l6.400 4-6.400 4z" fill="#f4f4f5"/></svg>
<div class="t" style="left:379.50px;top:23.15px;font-size:14px;color:#f4f4f5;letter-spacing:-0.084px;">manual</div>
<div class="t" style="left:462.25px;top:23.15px;font-size:14px;color:#f4f4f5;letter-spacing:0.866px;">2025-04-21, 13:10:47</div>
<div class="t" style="left:658.50px;top:23.15px;font-size:14px;color:#f4f4f5;letter-spacing:0.866px;">2025-04-21, 13:10:54</div>
<div class="t" style="left:855.20px;top:23.15px;font-size:14px;color:#f4f4f5;letter-spacing:0.584px;">6.78</div>
<div class="t" style="left:946.30px;top:23.15px;font-size:14px;color:#f4f4f5;letter-spacing:-0.086px;">v1</div>
<svg class="abs" style="left:1108px;top:24px;width:12px;height:12px;fill:none;stroke:#9cc0f9;stroke-width:1.600" viewBox="0 0 12 12"><path d="M9.520 8.770A4.300 4.300 0 1 1 8.760 3"/><path d="M10.800 0.700v4H6.900z" fill="#9cc0f9" stroke="none"/></svg>
<svg class="abs" style="left:1146.800px;top:28.200px;width:6.600px;height:3.800px" viewBox="0 0 7 4"><path d="M0 0h7L3.500 4z" fill="#9cc0f9"/></svg>
</div>
<div class="tr o" style="top:1096px">
<div class="t" style="left:12.50px;top:23.15px;font-size:14px;color:#9cc0f9;font-weight:bold;letter-spacing:1.307px;">2025-04-21, 13:10:43</div>
<div class="bd s"><svg viewBox="0 0 11 10"><path d="M0.800 5.400l3 3L10.200 1.500"/></svg></div>
<div class="t" style="left:247.00px;top:23.15px;font-size:14px;color:#fff;letter-spacing:0.321px;">success</div>
<svg class="abs" style="left:361px;top:26px;width:7px;height:9px" viewBox="0 0 7 9"><path d="M0.300 0.500l6.400 4-6.400 4z" fill="#f4f4f5"/></svg>
<div class="t" style="left:379.50px;top:23.15px;font-size:14px;color:#f4f4f5;letter-spacing:-0.084px;">manual</div>
<div class="t" style="left:462.25px;top:23.15px;font-size:14px;color:#f4f4f5;letter-spacing:0.866px;">2025-04-21, 13:10:44</div>
<div class="t" style="left:658.50px;top:23.15px;font-size:14px;color:#f4f4f5;letter-spacing:0.866px;">2025-04-21, 13:10:54</div>
<div class="t" style="left:855.20px;top:23.15px;font-size:14px;color:#f4f4f5;letter-spacing:0.584px;">9.99</div>
<div class="t" style="left:946.30px;top:23.15px;font-size:14px;color:#f4f4f5;letter-spacing:-0.086px;">v1</div>
<svg class="abs" style="left:1108px;top:24px;width:12px;height:12px;fill:none;stroke:#9cc0f9;stroke-width:1.600" viewBox="0 0 12 12"><path d="M9.520 8.770A4.300 4.300 0 1 1 8.760 3"/><path d="M10.800 0.700v4H6.900z" fill="#9cc0f9" stroke="none"/></svg>
<svg class="abs" style="left:1146.800px;top:28.200px;width:6.600px;height:3.800px" viewBox="0 0 7 4"><path d="M0 0h7L3.500 4z" fill="#9cc0f9"/></svg>
</div>
<div class="tr" style="top:1157px">
<div class="t" style="left:12.50px;top:23.15px;font-size:14px;color:#9cc0f9;font-weight:bold;letter-spacing:1.307px;">2025-04-21, 13:10:39</div>
<div class="bd f"><svg viewBox="0 0 11 10"><path d="M1.500 1l8 8M9.500 1l-8 8"/></svg></div>
<div class="t" style="left:247.00px;top:23.15px;font-size:14px;color:#fff;letter-spacing:0.506px;">failed</div>
<svg class="abs" style="left:361px;top:26px;width:7px;height:9px" viewBox="0 0 7 9"><path d="M0.300 0.500l6.400 4-6.400 4z" fill="#f4f4f5"/></svg>
<div class="t" style="left:379.50px;top:23.15px;font-size:14px;color:#f4f4f5;letter-spacing:-0.084px;">manual</div>
<div class="t" style="left:462.25px;top:23.15px;font-size:14px;color:#f4f4f5;letter-spacing:0.866px;">2025-04-21, 13:10:40</div>
<div class="t" style="left:658.50px;top:23.15px;font-size:14px;color:#f4f4f5;letter-spacing:0.866px;">2025-04-21, 13:10:46</div>
<div class="t" style="left:855.20px;top:23.15px;font-size:14px;color:#f4f4f5;letter-spacing:0.584px;">6.24</div>
<div class="t" style="left:946.30px;top:23.15px;font-size:14px;color:#f4f4f5;letter-spacing:-0.086px;">v1</div>
<svg class="abs" style="left:1108px;top:24px;width:12px;height:12px;fill:none;stroke:#9cc0f9;stroke-width:1.600" viewBox="0 0 12 12"><path d="M9.520 8.770A4.300 4.300 0 1 1 8.760 3"/><path d="M10.800 0.700v4H6.900z" fill="#9cc0f9" stroke="none"/></svg>
<svg class="abs" style="left:1146.800px;top:28.200px;width:6.600px;height:3.800px" viewBox="0 0 7 4"><path d="M0 0h7L3.500 4z" fill="#9cc0f9"/></svg>
</div>
<div class="abs" style="left:1717px;top:0;width:1px;height:1236px;background:#161618"></div>
<div class="abs" style="left:1718px;top:0;width:1px;height:1236px;background:#2f3026"></div>
<div class="abs" style="left:1719px;top:0;width:1px;height:1236px;background:linear-gradient(to bottom,#4a4f28,#6a6f3a 30%,#4c5128 55%,#5f6434 80%,#454a26)"></div>
</div></body></html>
